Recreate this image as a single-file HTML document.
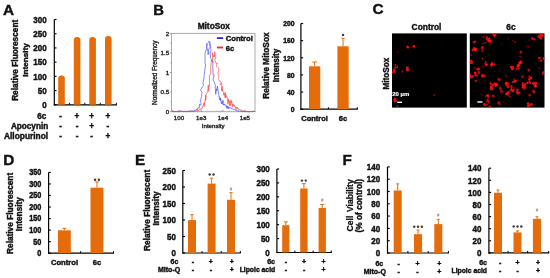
<!DOCTYPE html>
<html><head><meta charset="utf-8"><style>
html,body{margin:0;padding:0;background:#fff;}
svg{display:block;font-family:"Liberation Sans", sans-serif;will-change:transform;filter:blur(0.3px);}
</style></head><body>
<svg width="550" height="278" viewBox="0 0 550 278">
<rect width="550" height="278" fill="#fff"/>
<text x="3.0" y="14.8" font-size="15.3" font-weight="bold" text-anchor="start" fill="#111" stroke="#111" stroke-width="0.4">A</text>
<line x1="54.3" y1="19.5" x2="54.3" y2="105.3" stroke="#000" stroke-width="1.2"/>
<line x1="54.3" y1="19.5" x2="56.5" y2="19.5" stroke="#000" stroke-width="1.15"/>
<text x="0" y="0" font-size="8" font-weight="bold" text-anchor="end" fill="#111" transform="translate(46.6 22.70768) scale(1 1.12)" stroke="#111" stroke-width="0.4">300</text>
<line x1="54.3" y1="33.71666666666667" x2="56.5" y2="33.71666666666667" stroke="#000" stroke-width="1.15"/>
<text x="0" y="0" font-size="8" font-weight="bold" text-anchor="end" fill="#111" transform="translate(46.6 36.92434666666667) scale(1 1.12)" stroke="#111" stroke-width="0.4">250</text>
<line x1="54.3" y1="47.93333333333334" x2="56.5" y2="47.93333333333334" stroke="#000" stroke-width="1.15"/>
<text x="0" y="0" font-size="8" font-weight="bold" text-anchor="end" fill="#111" transform="translate(46.6 51.14101333333334) scale(1 1.12)" stroke="#111" stroke-width="0.4">200</text>
<line x1="54.3" y1="62.15" x2="56.5" y2="62.15" stroke="#000" stroke-width="1.15"/>
<text x="0" y="0" font-size="8" font-weight="bold" text-anchor="end" fill="#111" transform="translate(46.6 65.35768) scale(1 1.12)" stroke="#111" stroke-width="0.4">150</text>
<line x1="54.3" y1="76.36666666666667" x2="56.5" y2="76.36666666666667" stroke="#000" stroke-width="1.15"/>
<text x="0" y="0" font-size="8" font-weight="bold" text-anchor="end" fill="#111" transform="translate(46.6 79.57434666666667) scale(1 1.12)" stroke="#111" stroke-width="0.4">100</text>
<line x1="54.3" y1="90.58333333333333" x2="56.5" y2="90.58333333333333" stroke="#000" stroke-width="1.15"/>
<text x="0" y="0" font-size="8" font-weight="bold" text-anchor="end" fill="#111" transform="translate(46.6 93.79101333333332) scale(1 1.12)" stroke="#111" stroke-width="0.4">50</text>
<line x1="54.3" y1="104.8" x2="56.5" y2="104.8" stroke="#000" stroke-width="1.15"/>
<text x="0" y="0" font-size="8" font-weight="bold" text-anchor="end" fill="#111" transform="translate(46.6 108.00768) scale(1 1.12)" stroke="#111" stroke-width="0.4">0</text>
<line x1="53.8" y1="104.8" x2="116.9" y2="104.8" stroke="#000" stroke-width="1.2"/>
<line x1="69.4" y1="104.8" x2="69.4" y2="102.8" stroke="#000" stroke-width="1"/>
<line x1="84.8" y1="104.8" x2="84.8" y2="102.8" stroke="#000" stroke-width="1"/>
<line x1="100.3" y1="104.8" x2="100.3" y2="102.8" stroke="#000" stroke-width="1"/>
<line x1="116.4" y1="104.8" x2="116.4" y2="102.8" stroke="#000" stroke-width="1"/>
<path d="M58.2 104.8 L58.2 78.19999999999999 Q58.2 75.6 61.5 75.6 Q64.8 75.6 64.8 78.19999999999999 L64.8 104.8 Z" fill="#E46C0A"/>
<path d="M73.8 104.8 L73.8 39.6 Q73.8 37.0 77.1 37.0 Q80.39999999999999 37.0 80.39999999999999 39.6 L80.39999999999999 104.8 Z" fill="#E46C0A"/>
<path d="M89.3 104.8 L89.3 39.6 Q89.3 37.0 92.6 37.0 Q95.89999999999999 37.0 95.89999999999999 39.6 L95.89999999999999 104.8 Z" fill="#E46C0A"/>
<path d="M105.0 104.8 L105.0 38.5 Q105.0 35.9 108.3 35.9 Q111.6 35.9 111.6 38.5 L111.6 104.8 Z" fill="#E46C0A"/>
<text x="46.4" y="118.5" font-size="8.2" font-weight="bold" text-anchor="end" fill="#111" stroke="#111" stroke-width="0.4">6c</text>
<text x="48.2" y="128.7" font-size="8.2" font-weight="bold" text-anchor="end" fill="#111" stroke="#111" stroke-width="0.4">Apocynin</text>
<text x="48.2" y="138.8" font-size="8.4" font-weight="bold" text-anchor="end" fill="#111" stroke="#111" stroke-width="0.4">Allopurinol</text>
<text x="60.6" y="118.5" font-size="8.2" font-weight="bold" text-anchor="middle" fill="#111" stroke="#111" stroke-width="0.4">-</text>
<text x="77" y="118.5" font-size="8.2" font-weight="bold" text-anchor="middle" fill="#111" stroke="#111" stroke-width="0.4">+</text>
<text x="91.6" y="118.5" font-size="8.2" font-weight="bold" text-anchor="middle" fill="#111" stroke="#111" stroke-width="0.4">+</text>
<text x="107.9" y="118.5" font-size="8.2" font-weight="bold" text-anchor="middle" fill="#111" stroke="#111" stroke-width="0.4">+</text>
<text x="60.6" y="128.8" font-size="8.2" font-weight="bold" text-anchor="middle" fill="#111" stroke="#111" stroke-width="0.4">-</text>
<text x="77" y="128.8" font-size="8.2" font-weight="bold" text-anchor="middle" fill="#111" stroke="#111" stroke-width="0.4">-</text>
<text x="91.6" y="128.8" font-size="8.2" font-weight="bold" text-anchor="middle" fill="#111" stroke="#111" stroke-width="0.4">+</text>
<text x="107.9" y="128.8" font-size="8.2" font-weight="bold" text-anchor="middle" fill="#111" stroke="#111" stroke-width="0.4">-</text>
<text x="60.6" y="139.1" font-size="8.2" font-weight="bold" text-anchor="middle" fill="#111" stroke="#111" stroke-width="0.4">-</text>
<text x="77" y="139.1" font-size="8.2" font-weight="bold" text-anchor="middle" fill="#111" stroke="#111" stroke-width="0.4">-</text>
<text x="91.6" y="139.1" font-size="8.2" font-weight="bold" text-anchor="middle" fill="#111" stroke="#111" stroke-width="0.4">-</text>
<text x="107.9" y="139.1" font-size="8.2" font-weight="bold" text-anchor="middle" fill="#111" stroke="#111" stroke-width="0.4">+</text>
<text x="17.6" y="60.3" font-size="8.3" font-weight="bold" text-anchor="middle" fill="#111" transform="rotate(-90 17.6 60.3)" stroke="#111" stroke-width="0.4">Relative Fluorescent</text>
<text x="27.5" y="60.0" font-size="8.1" font-weight="bold" text-anchor="middle" fill="#111" transform="rotate(-90 27.5 60.0)" stroke="#111" stroke-width="0.4">Intensity</text>
<text x="153.2" y="14.9" font-size="14.8" font-weight="bold" text-anchor="start" fill="#111" stroke="#111" stroke-width="0.4">B</text>
<text x="213.8" y="28.6" font-size="8.3" font-weight="bold" text-anchor="middle" fill="#111" stroke="#111" stroke-width="0.4">MitoSox</text>
<rect x="171.5" y="33.4" width="83.5" height="78.3" fill="none" stroke="#aaa" stroke-width="1"/>
<line x1="169.8" y1="33.4" x2="171.5" y2="33.4" stroke="#888" stroke-width="0.8"/>
<text x="169.2" y="35.6" font-size="6.2" font-weight="normal" text-anchor="end" fill="#222" stroke="#222" stroke-width="0.35">2</text>
<line x1="170.5" y1="43.19" x2="171.5" y2="43.19" stroke="#888" stroke-width="0.8"/>
<line x1="169.8" y1="52.974999999999994" x2="171.5" y2="52.974999999999994" stroke="#888" stroke-width="0.8"/>
<text x="169.2" y="55.175" font-size="6.2" font-weight="normal" text-anchor="end" fill="#222" stroke="#222" stroke-width="0.35">1.5</text>
<line x1="170.5" y1="62.76499999999999" x2="171.5" y2="62.76499999999999" stroke="#888" stroke-width="0.8"/>
<line x1="169.8" y1="72.55" x2="171.5" y2="72.55" stroke="#888" stroke-width="0.8"/>
<text x="169.2" y="74.75" font-size="6.2" font-weight="normal" text-anchor="end" fill="#222" stroke="#222" stroke-width="0.35">1</text>
<line x1="170.5" y1="82.34" x2="171.5" y2="82.34" stroke="#888" stroke-width="0.8"/>
<line x1="169.8" y1="92.125" x2="171.5" y2="92.125" stroke="#888" stroke-width="0.8"/>
<text x="169.2" y="94.325" font-size="6.2" font-weight="normal" text-anchor="end" fill="#222" stroke="#222" stroke-width="0.35">0.5</text>
<line x1="170.5" y1="101.91499999999999" x2="171.5" y2="101.91499999999999" stroke="#888" stroke-width="0.8"/>
<line x1="169.8" y1="111.69999999999999" x2="171.5" y2="111.69999999999999" stroke="#888" stroke-width="0.8"/>
<text x="169.2" y="113.89999999999999" font-size="6.2" font-weight="normal" text-anchor="end" fill="#222" stroke="#222" stroke-width="0.35">0</text>
<text x="179" y="119.5" font-size="6.2" font-weight="normal" text-anchor="middle" fill="#222" stroke="#222" stroke-width="0.35">100</text>
<line x1="179" y1="111.7" x2="179" y2="109.8" stroke="#888" stroke-width="0.8"/>
<text x="201.2" y="119.5" font-size="6.2" font-weight="normal" text-anchor="middle" fill="#222" stroke="#222" stroke-width="0.35">1e3</text>
<line x1="201.2" y1="111.7" x2="201.2" y2="109.8" stroke="#888" stroke-width="0.8"/>
<text x="223" y="119.5" font-size="6.2" font-weight="normal" text-anchor="middle" fill="#222" stroke="#222" stroke-width="0.35">1e4</text>
<line x1="223" y1="111.7" x2="223" y2="109.8" stroke="#888" stroke-width="0.8"/>
<text x="244.9" y="119.5" font-size="6.2" font-weight="normal" text-anchor="middle" fill="#222" stroke="#222" stroke-width="0.35">1e5</text>
<line x1="244.9" y1="111.7" x2="244.9" y2="109.8" stroke="#888" stroke-width="0.8"/>
<line x1="185.6226599046076" y1="111.7" x2="185.6226599046076" y2="110.6" stroke="#999" stroke-width="0.6"/>
<line x1="189.49666760383258" y1="111.7" x2="189.49666760383258" y2="110.6" stroke="#999" stroke-width="0.6"/>
<line x1="192.24531980921518" y1="111.7" x2="192.24531980921518" y2="110.6" stroke="#999" stroke-width="0.6"/>
<line x1="194.3773400953924" y1="111.7" x2="194.3773400953924" y2="110.6" stroke="#999" stroke-width="0.6"/>
<line x1="196.11932750844016" y1="111.7" x2="196.11932750844016" y2="110.6" stroke="#999" stroke-width="0.6"/>
<line x1="197.59215688031364" y1="111.7" x2="197.59215688031364" y2="110.6" stroke="#999" stroke-width="0.6"/>
<line x1="198.86797971382276" y1="111.7" x2="198.86797971382276" y2="110.6" stroke="#999" stroke-width="0.6"/>
<line x1="199.99333520766515" y1="111.7" x2="199.99333520766515" y2="110.6" stroke="#999" stroke-width="0.6"/>
<line x1="207.82265990460758" y1="111.7" x2="207.82265990460758" y2="110.6" stroke="#999" stroke-width="0.6"/>
<line x1="211.69666760383257" y1="111.7" x2="211.69666760383257" y2="110.6" stroke="#999" stroke-width="0.6"/>
<line x1="214.44531980921516" y1="111.7" x2="214.44531980921516" y2="110.6" stroke="#999" stroke-width="0.6"/>
<line x1="216.5773400953924" y1="111.7" x2="216.5773400953924" y2="110.6" stroke="#999" stroke-width="0.6"/>
<line x1="218.31932750844015" y1="111.7" x2="218.31932750844015" y2="110.6" stroke="#999" stroke-width="0.6"/>
<line x1="219.79215688031363" y1="111.7" x2="219.79215688031363" y2="110.6" stroke="#999" stroke-width="0.6"/>
<line x1="221.06797971382275" y1="111.7" x2="221.06797971382275" y2="110.6" stroke="#999" stroke-width="0.6"/>
<line x1="222.19333520766514" y1="111.7" x2="222.19333520766514" y2="110.6" stroke="#999" stroke-width="0.6"/>
<line x1="229.6226599046076" y1="111.7" x2="229.6226599046076" y2="110.6" stroke="#999" stroke-width="0.6"/>
<line x1="233.49666760383258" y1="111.7" x2="233.49666760383258" y2="110.6" stroke="#999" stroke-width="0.6"/>
<line x1="236.24531980921518" y1="111.7" x2="236.24531980921518" y2="110.6" stroke="#999" stroke-width="0.6"/>
<line x1="238.3773400953924" y1="111.7" x2="238.3773400953924" y2="110.6" stroke="#999" stroke-width="0.6"/>
<line x1="240.11932750844016" y1="111.7" x2="240.11932750844016" y2="110.6" stroke="#999" stroke-width="0.6"/>
<line x1="241.59215688031364" y1="111.7" x2="241.59215688031364" y2="110.6" stroke="#999" stroke-width="0.6"/>
<line x1="242.86797971382276" y1="111.7" x2="242.86797971382276" y2="110.6" stroke="#999" stroke-width="0.6"/>
<line x1="243.99333520766515" y1="111.7" x2="243.99333520766515" y2="110.6" stroke="#999" stroke-width="0.6"/>
<text x="213.2" y="128.2" font-size="6.1" font-weight="normal" text-anchor="middle" fill="#222" stroke="#222" stroke-width="0.35">Intensity</text>
<text x="157.3" y="72.8" font-size="6.4" font-weight="normal" text-anchor="middle" fill="#222" transform="rotate(-90 157.3 72.8)" stroke="#222" stroke-width="0.35">Normalized Frequency</text>
<polyline points="172.0,111.7 172.45,110.49 172.9,111.66 173.35,111.27 173.8,111.55 174.25,111.4 174.7,111.7 175.15,111.39 175.6,111.59 176.05,111.04 176.5,111.56 176.95,111.33 177.4,111.51 177.85,111.2 178.3,111.6 178.75,111.31 179.2,111.65 179.65,111.36 180.1,111.7 180.55,111.37 181.0,111.46 181.45,111.24 181.9,111.66 182.35,111.24 182.8,111.46 183.25,111.37 183.7,111.7 184.15,111.33 184.6,111.46 185.05,111.3 185.5,111.54 185.95,111.31 186.4,111.7 186.85,111.34 187.3,111.45 187.75,111.32 188.2,111.7 188.65,111.27 189.1,111.53 189.55,110.74 189.99,111.51 190.45,111.29 190.9,111.42 191.34,110.92 191.8,111.34 192.25,111.29 192.69,111.7 193.15,111.18 193.6,111.33 194.05,111.09 194.49,111.25 194.96,110.84 195.42,111.35 195.82,110.95 196.28,110.97 196.75,110.54 197.18,110.85 197.71,109.68 198.11,110.82 198.47,110.24 198.94,110.29 199.45,109.82 200.08,109.76 200.34,109.2 200.82,109.55 201.35,107.91 201.69,108.63 202.66,106.83 202.48,107.55 203.28,105.12 203.56,105.34 204.18,102.34 203.96,106.32 205.65,98.23 205.23,100.74 205.77,95.23 205.61,99.91 206.11,94.14 207.55,92.13 208.34,84.86 208.68,91.44 209.54,82.96 209.54,82.24 209.38,75.8 210.55,74.12 210.78,67.87 210.61,66.33 211.8,59.86 212.76,62.49 212.22,52.57 212.48,55.02 213.19,55.26 213.63,57.09 213.82,54.87 214.28,56.66 214.69,51.84 215.97,58.25 214.6,59.1 216.29,63.67 217.41,63.11 216.27,66.28 218.79,68.44 218.38,71.61 217.88,73.38 218.96,77.2 218.15,78.63 219.34,80.9 221.21,82.12 220.17,84.86 221.79,83.22 221.47,90.62 222.35,86.55 222.42,90.86 221.95,89.37 223.09,92.0 223.81,92.03 223.85,95.41 224.25,93.27 225.2,97.98 225.39,92.48 225.58,97.53 226.31,95.3 227.03,98.01 227.28,97.79 227.95,104.21 228.54,98.81 228.71,101.96 228.93,100.4 229.38,105.75 230.05,100.9 230.63,105.47 230.99,99.85 231.48,103.05 231.78,101.58 232.35,106.9 232.68,103.82 233.15,104.89 233.46,104.38 233.86,106.37 234.48,105.02 234.85,106.92 235.34,106.64 235.98,110.05 236.34,107.25 237.12,108.03 237.34,107.1 237.64,108.82 238.23,108.62 238.63,109.62 238.99,109.32 239.58,109.73 239.89,109.76 240.17,110.06 240.9,109.62 241.27,110.46 241.82,110.53 242.17,110.79 242.59,110.64 243.17,111.08 243.51,110.98 244.0,111.52 244.48,111.09 244.9,111.34 245.35,111.29 245.8,111.7 246.26,111.28 246.7,111.7 247.15,111.4 247.6,111.58 248.05,111.5 248.5,111.7 248.95,111.39 249.4,111.7 249.85,111.52 250.3,111.7 250.75,111.44 251.2,111.58 251.65,111.46 252.1,111.64 252.55,111.29 253.0,111.7 253.45,111.3 253.9,111.59 254.35,111.44 254.8,111.66" fill="none" stroke="#ff4545" stroke-width="0.65" stroke-linejoin="bevel"/>
<polyline points="172.0,111.7 172.45,111.47 172.9,111.65 173.35,111.4 173.8,111.59 174.25,111.38 174.7,111.56 175.15,111.25 175.6,111.63 176.05,111.42 176.5,111.53 176.95,111.36 177.4,111.7 177.85,111.35 178.3,111.7 178.75,111.37 179.2,111.7 179.65,111.33 180.1,111.45 180.55,110.68 181.0,111.55 181.45,111.32 181.9,111.49 182.35,111.35 182.8,111.48 183.25,111.26 183.7,111.53 184.15,111.23 184.6,111.47 185.05,111.2 185.5,111.56 185.95,111.3 186.41,111.7 186.84,111.27 187.31,111.4 187.75,111.1 188.2,111.7 188.65,111.12 189.1,111.55 189.55,111.07 189.99,111.42 190.45,111.05 190.9,111.21 191.35,110.87 191.82,111.11 192.25,110.71 192.69,111.2 193.14,110.79 193.59,111.23 194.08,110.64 194.45,110.76 195.03,110.29 195.42,110.42 195.84,109.77 196.21,109.83 196.77,109.43 197.31,110.04 197.32,108.66 198.32,108.2 198.86,107.49 199.1,108.26 199.65,104.19 200.87,105.42 200.99,103.31 200.18,102.47 201.24,97.7 201.56,96.63 202.01,92.38 200.47,90.14 203.73,84.89 202.93,83.56 204.1,77.02 204.28,74.39 205.63,64.26 205.03,63.7 205.03,53.21 206.68,48.7 207.0,43.08 206.81,47.73 208.78,52.11 208.04,54.69 207.97,50.5 210.27,46.92 208.62,41.3 209.84,41.38 209.8,41.76 211.11,50.42 210.04,53.12 210.85,58.53 213.01,61.96 212.67,68.0 212.98,68.08 213.0,74.69 214.25,74.93 213.04,78.99 213.74,80.97 215.08,84.1 215.17,84.21 215.7,94.29 216.51,88.9 216.93,90.7 217.34,86.14 218.67,94.23 218.77,94.91 219.29,97.08 219.24,96.64 219.53,99.78 219.71,98.73 220.5,100.57 220.55,97.77 221.39,103.88 222.09,101.31 222.7,103.83 223.01,100.23 223.19,104.98 223.81,104.0 224.11,105.17 224.74,104.2 225.09,105.13 225.64,105.13 226.26,106.96 226.54,105.78 227.13,108.76 227.37,105.96 227.77,107.71 228.35,106.68 228.81,108.8 229.11,107.24 229.6,108.11 229.96,107.61 230.49,108.15 231.01,107.81 231.39,108.55 231.81,108.53 232.21,109.1 232.77,108.68 233.25,109.36 233.69,109.3 234.11,109.79 234.49,109.57 235.09,110.0 235.45,110.08 235.89,110.34 236.39,110.13 236.7,110.59 237.25,110.65 237.7,110.79 238.16,110.78 238.65,111.13 239.07,110.8 239.44,111.19 239.94,111.22 240.4,111.35 240.85,111.19 241.28,111.54 241.73,111.41 242.21,111.7 242.65,111.52 243.1,111.67 243.55,111.54 244.0,111.7 244.45,111.48 244.9,111.64 245.35,111.56 245.8,111.6 246.25,111.12 246.7,111.7 247.15,111.38 247.6,111.63 248.05,111.55 248.5,111.7 248.95,111.5 249.4,111.7 249.85,111.39 250.3,111.66 250.75,111.43 251.2,111.63 251.65,111.45 252.1,111.62 252.55,111.48 253.0,111.7 253.45,111.45 253.9,111.66 254.35,110.92 254.8,111.7" fill="none" stroke="#4545ff" stroke-width="0.65" stroke-linejoin="bevel"/>
<line x1="216.9" y1="38.1" x2="223.1" y2="38.1" stroke="#2020ff" stroke-width="1.8"/>
<line x1="216.9" y1="47.5" x2="223.1" y2="47.5" stroke="#ff2020" stroke-width="1.8"/>
<text x="225.8" y="41.2" font-size="7.6" font-weight="bold" text-anchor="start" fill="#111" stroke="#111" stroke-width="0.4">Control</text>
<text x="225.8" y="50.6" font-size="7.6" font-weight="bold" text-anchor="start" fill="#111" stroke="#111" stroke-width="0.4">6c</text>
<line x1="300.9" y1="23.5" x2="300.9" y2="109.7" stroke="#000" stroke-width="1.2"/>
<line x1="300.9" y1="23.5" x2="303.09999999999997" y2="23.5" stroke="#000" stroke-width="1.15"/>
<text x="0" y="0" font-size="6.8" font-weight="bold" text-anchor="end" fill="#111" transform="translate(294.6 26.226528000000002) scale(1 1.12)" stroke="#111" stroke-width="0.4">200</text>
<line x1="300.9" y1="40.64" x2="303.09999999999997" y2="40.64" stroke="#000" stroke-width="1.15"/>
<text x="0" y="0" font-size="6.8" font-weight="bold" text-anchor="end" fill="#111" transform="translate(294.6 43.366528) scale(1 1.12)" stroke="#111" stroke-width="0.4">160</text>
<line x1="300.9" y1="57.78" x2="303.09999999999997" y2="57.78" stroke="#000" stroke-width="1.15"/>
<text x="0" y="0" font-size="6.8" font-weight="bold" text-anchor="end" fill="#111" transform="translate(294.6 60.506528) scale(1 1.12)" stroke="#111" stroke-width="0.4">120</text>
<line x1="300.9" y1="74.92" x2="303.09999999999997" y2="74.92" stroke="#000" stroke-width="1.15"/>
<text x="0" y="0" font-size="6.8" font-weight="bold" text-anchor="end" fill="#111" transform="translate(294.6 77.646528) scale(1 1.12)" stroke="#111" stroke-width="0.4">80</text>
<line x1="300.9" y1="92.06" x2="303.09999999999997" y2="92.06" stroke="#000" stroke-width="1.15"/>
<text x="0" y="0" font-size="6.8" font-weight="bold" text-anchor="end" fill="#111" transform="translate(294.6 94.786528) scale(1 1.12)" stroke="#111" stroke-width="0.4">40</text>
<line x1="300.9" y1="109.2" x2="303.09999999999997" y2="109.2" stroke="#000" stroke-width="1.15"/>
<text x="0" y="0" font-size="6.8" font-weight="bold" text-anchor="end" fill="#111" transform="translate(294.6 111.926528) scale(1 1.12)" stroke="#111" stroke-width="0.4">0</text>
<line x1="300.4" y1="109.2" x2="357.8" y2="109.2" stroke="#000" stroke-width="1.2"/>
<line x1="328.4" y1="109.2" x2="328.4" y2="107.2" stroke="#000" stroke-width="1"/>
<line x1="357.3" y1="109.2" x2="357.3" y2="107.2" stroke="#000" stroke-width="1"/>
<rect x="309" y="66.3" width="11.300000000000011" height="42.900000000000006" fill="#E46C0A"/>
<line x1="314.65" y1="62" x2="314.65" y2="66.3" stroke="#E46C0A" stroke-width="1"/>
<line x1="312.34999999999997" y1="62" x2="316.95" y2="62" stroke="#E46C0A" stroke-width="1"/>
<rect x="337.4" y="46.3" width="11.300000000000011" height="62.900000000000006" fill="#E46C0A"/>
<line x1="343.04999999999995" y1="38.3" x2="343.04999999999995" y2="46.3" stroke="#E46C0A" stroke-width="1"/>
<line x1="341.34999999999997" y1="38.3" x2="344.74999999999994" y2="38.3" stroke="#E46C0A" stroke-width="1"/>
<circle cx="343.05" cy="34.90" r="1.2" fill="#3a3a3a"/>
<text x="314.6" y="121.2" font-size="7.5" font-weight="bold" text-anchor="middle" fill="#111" stroke="#111" stroke-width="0.4">Control</text>
<text x="343.0" y="121.0" font-size="7.5" font-weight="bold" text-anchor="middle" fill="#111" stroke="#111" stroke-width="0.4">6c</text>
<text x="269.5" y="65.6" font-size="8.3" font-weight="bold" text-anchor="middle" fill="#111" transform="rotate(-90 269.5 65.6)" stroke="#111" stroke-width="0.4">Relative MitoSox</text>
<text x="278.6" y="65.5" font-size="8.2" font-weight="bold" text-anchor="middle" fill="#111" transform="rotate(-90 278.6 65.5)" stroke="#111" stroke-width="0.4">Intensity</text>
<text x="372.6" y="14.3" font-size="15.3" font-weight="bold" text-anchor="start" fill="#111" stroke="#111" stroke-width="0.4">C</text>
<text x="426.5" y="29.5" font-size="8.4" font-weight="bold" text-anchor="middle" fill="#111" stroke="#111" stroke-width="0.4">Control</text>
<text x="511" y="29.8" font-size="8.4" font-weight="bold" text-anchor="middle" fill="#111" stroke="#111" stroke-width="0.4">6c</text>
<text x="388.9" y="73.6" font-size="8.2" font-weight="bold" text-anchor="middle" fill="#111" transform="rotate(-90 388.9 73.6)" stroke="#111" stroke-width="0.4">MitoSox</text>
<rect x="392" y="33.4" width="74.8" height="74.2" fill="#000"/>
<rect x="469.8" y="33.4" width="74.7" height="74.2" fill="#000"/>
<defs><filter id="bl" x="-5%" y="-5%" width="110%" height="110%"><feGaussianBlur stdDeviation="0.65"/></filter><clipPath id="c1"><rect x="392" y="33.4" width="74.8" height="74.2"/></clipPath><clipPath id="c2"><rect x="469.8" y="33.4" width="74.7" height="74.2"/></clipPath></defs>
<g clip-path="url(#c1)"><g filter="url(#bl)">
<ellipse cx="416.63979183282083" cy="45.01198969648864" rx="0.81" ry="0.59" transform="rotate(10 416.63979183282083 45.01198969648864)" fill="#ff0d0d" opacity="0.11086544300013142"/>
<ellipse cx="430.04280852282767" cy="36.7371830662649" rx="0.60" ry="0.55" transform="rotate(149 430.04280852282767 36.7371830662649)" fill="#ff0d0d" opacity="0.11047831353619285"/>
<ellipse cx="402.0375431639241" cy="50.296444416312056" rx="0.82" ry="0.59" transform="rotate(176 402.0375431639241 50.296444416312056)" fill="#ff0d0d" opacity="0.24215634136855085"/>
<ellipse cx="396.4005356850962" cy="96.6681975105536" rx="0.56" ry="0.48" transform="rotate(147 396.4005356850962 96.6681975105536)" fill="#ff0d0d" opacity="0.12163826250361563"/>
<ellipse cx="406.1930257344474" cy="76.45681194736004" rx="0.81" ry="0.50" transform="rotate(11 406.1930257344474 76.45681194736004)" fill="#ff0d0d" opacity="0.1558596314088597"/>
<ellipse cx="408.03498603581085" cy="83.66919804227038" rx="0.75" ry="0.55" transform="rotate(54 408.03498603581085 83.66919804227038)" fill="#ff0d0d" opacity="0.14712207555651874"/>
<ellipse cx="407.7" cy="47.1" rx="1.69" ry="1.27" transform="rotate(44 407.7 47.1)" fill="#ff0d0d" opacity="0.95"/>
<ellipse cx="413.7" cy="46.4" rx="1.54" ry="1.18" transform="rotate(158 413.7 46.4)" fill="#ff0d0d" opacity="0.95"/>
<ellipse cx="397.9" cy="52.4" rx="1.26" ry="0.82" transform="rotate(176 397.9 52.4)" fill="#ff0d0d" opacity="0.3"/>
<ellipse cx="397.0062180445139" cy="67.42214786738566" rx="0.83" ry="0.88" transform="rotate(138 397.0062180445139 67.42214786738566)" fill="#ff0d0d" opacity="0.8466889301427416"/>
<ellipse cx="395.083617673724" cy="67.6176795307542" rx="1.16" ry="0.90" transform="rotate(82 395.083617673724 67.6176795307542)" fill="#ff0d0d" opacity="0.9085886098820978"/>
<ellipse cx="395.33930829594516" cy="65.16183187801444" rx="0.96" ry="1.01" transform="rotate(116 395.33930829594516 65.16183187801444)" fill="#ff0d0d" opacity="0.8992456616424023"/>
<ellipse cx="397.3951235166225" cy="66.69660756538666" rx="1.18" ry="0.68" transform="rotate(83 397.3951235166225 66.69660756538666)" fill="#ff0d0d" opacity="0.8157374327340132"/>
<ellipse cx="408.51568909287937" cy="69.71138149503537" rx="1.37" ry="1.15" transform="rotate(157 408.51568909287937 69.71138149503537)" fill="#ff0d0d" opacity="0.6649218599450447"/>
<ellipse cx="407.2806914172087" cy="69.95344153288822" rx="1.63" ry="1.30" transform="rotate(50 407.2806914172087 69.95344153288822)" fill="#ff0d0d" opacity="0.8685136331392085"/>
<ellipse cx="406.98470459629795" cy="68.00905889779384" rx="1.35" ry="1.07" transform="rotate(42 406.98470459629795 68.00905889779384)" fill="#ff0d0d" opacity="0.8885874250702777"/>
<ellipse cx="407.9632196966693" cy="67.4125172283167" rx="1.14" ry="1.09" transform="rotate(66 407.9632196966693 67.4125172283167)" fill="#ff0d0d" opacity="0.7009415872106053"/>
<ellipse cx="402.2" cy="71.5" rx="1.18" ry="1.08" transform="rotate(124 402.2 71.5)" fill="#ff0d0d" opacity="0.6"/>
<ellipse cx="392.37306708873393" cy="72.38019723218244" rx="1.06" ry="0.86" transform="rotate(144 392.37306708873393 72.38019723218244)" fill="#ff0d0d" opacity="0.9698599030173857"/>
<ellipse cx="393.4733271161392" cy="71.45228338006446" rx="0.78" ry="0.61" transform="rotate(38 393.4733271161392 71.45228338006446)" fill="#ff0d0d" opacity="0.8902868697057127"/>
<ellipse cx="394.34312548724284" cy="71.80477043005631" rx="0.80" ry="0.61" transform="rotate(65 394.34312548724284 71.80477043005631)" fill="#ff0d0d" opacity="0.7000699845704069"/>
<ellipse cx="394.9591615204129" cy="72.5334357073833" rx="1.04" ry="0.85" transform="rotate(66 394.9591615204129 72.5334357073833)" fill="#ff0d0d" opacity="0.7445651455992673"/>
<ellipse cx="394" cy="69.8" rx="1.25" ry="1.35" transform="rotate(179 394 69.8)" fill="#ff0d0d" opacity="0.9"/>
<ellipse cx="434" cy="95.1" rx="1.13" ry="0.89" transform="rotate(15 434 95.1)" fill="#ff0d0d" opacity="0.55"/>
<ellipse cx="396.07639080116724" cy="101.08055128050714" rx="1.00" ry="1.18" transform="rotate(95 396.07639080116724 101.08055128050714)" fill="#ff0d0d" opacity="0.7484315831579295"/>
<ellipse cx="395.0683921139492" cy="101.62401655381338" rx="1.12" ry="0.85" transform="rotate(125 395.0683921139492 101.62401655381338)" fill="#ff0d0d" opacity="0.8584328322814919"/>
<ellipse cx="394.2657629776057" cy="100.53054116993918" rx="1.00" ry="0.87" transform="rotate(59 394.2657629776057 100.53054116993918)" fill="#ff0d0d" opacity="0.9315813725206094"/>
<ellipse cx="394.70469775938767" cy="99.32256845408786" rx="1.49" ry="1.18" transform="rotate(133 394.70469775938767 99.32256845408786)" fill="#ff0d0d" opacity="0.9557886396239981"/>
<ellipse cx="397.5" cy="105.9" rx="1.01" ry="0.91" transform="rotate(64 397.5 105.9)" fill="#ff0d0d" opacity="0.7"/>
<ellipse cx="441.2" cy="42" rx="0.73" ry="0.57" transform="rotate(50 441.2 42)" fill="#ff0d0d" opacity="0.25"/>
<ellipse cx="413.7" cy="89.5" rx="0.82" ry="0.78" transform="rotate(172 413.7 89.5)" fill="#ff0d0d" opacity="0.25"/>
</g></g>
<g clip-path="url(#c2)"><g filter="url(#bl)">
<ellipse cx="503.6476204769708" cy="102.40254769316569" rx="1.08" ry="0.78" transform="rotate(41 503.6476204769708 102.40254769316569)" fill="#ff0d0d" opacity="0.3396501452039066"/>
<ellipse cx="485.3595499296102" cy="48.91925551916428" rx="1.07" ry="0.72" transform="rotate(118 485.3595499296102 48.91925551916428)" fill="#ff0d0d" opacity="0.3270709177133463"/>
<ellipse cx="529.3739933740252" cy="40.188829510877746" rx="1.07" ry="0.83" transform="rotate(86 529.3739933740252 40.188829510877746)" fill="#ff0d0d" opacity="0.32924874163689627"/>
<ellipse cx="484.03208543864287" cy="91.60688646448017" rx="0.92" ry="0.57" transform="rotate(72 484.03208543864287 91.60688646448017)" fill="#ff0d0d" opacity="0.3041894208462389"/>
<ellipse cx="540.1161814719371" cy="86.91030259129772" rx="0.57" ry="0.62" transform="rotate(145 540.1161814719371 86.91030259129772)" fill="#ff0d0d" opacity="0.1492188244785088"/>
<ellipse cx="481.6707245383028" cy="94.33526493235325" rx="1.06" ry="0.91" transform="rotate(24 481.6707245383028 94.33526493235325)" fill="#ff0d0d" opacity="0.2711717073292846"/>
<ellipse cx="472.0397344853957" cy="104.8749829383568" rx="1.13" ry="0.72" transform="rotate(157 472.0397344853957 104.8749829383568)" fill="#ff0d0d" opacity="0.24111364083278275"/>
<ellipse cx="531.3093333825111" cy="49.406090624954864" rx="0.64" ry="0.58" transform="rotate(47 531.3093333825111 49.406090624954864)" fill="#ff0d0d" opacity="0.18738233011415034"/>
<ellipse cx="501.5879163510817" cy="43.56837838475428" rx="1.08" ry="0.89" transform="rotate(163 501.5879163510817 43.56837838475428)" fill="#ff0d0d" opacity="0.20137032550924955"/>
<ellipse cx="501.70586376176175" cy="100.9936391570145" rx="0.87" ry="0.53" transform="rotate(79 501.70586376176175 100.9936391570145)" fill="#ff0d0d" opacity="0.24231974136026474"/>
<ellipse cx="484.3668757708705" cy="34.28707117327186" rx="1.02" ry="0.89" transform="rotate(100 484.3668757708705 34.28707117327186)" fill="#ff0d0d" opacity="0.15963974380909324"/>
<ellipse cx="494.7966970265671" cy="71.83945602732169" rx="0.74" ry="0.72" transform="rotate(45 494.7966970265671 71.83945602732169)" fill="#ff0d0d" opacity="0.3003826693340593"/>
<ellipse cx="491.21494614392907" cy="90.37506020915065" rx="0.96" ry="0.80" transform="rotate(80 491.21494614392907 90.37506020915065)" fill="#ff0d0d" opacity="0.2491977589309895"/>
<ellipse cx="515.7145355571456" cy="70.90537855213918" rx="0.85" ry="0.69" transform="rotate(86 515.7145355571456 70.90537855213918)" fill="#ff0d0d" opacity="0.2793281305860927"/>
<ellipse cx="539.7295823103105" cy="85.04290539916087" rx="0.97" ry="0.87" transform="rotate(170 539.7295823103105 85.04290539916087)" fill="#ff0d0d" opacity="0.3367015353098224"/>
<ellipse cx="532.319984187704" cy="44.01081382047016" rx="0.53" ry="0.45" transform="rotate(13 532.319984187704 44.01081382047016)" fill="#ff0d0d" opacity="0.22168716030326002"/>
<ellipse cx="519.8714666076224" cy="91.22732925364033" rx="1.19" ry="0.91" transform="rotate(26 519.8714666076224 91.22732925364033)" fill="#ff0d0d" opacity="0.15552272346679918"/>
<ellipse cx="535.4467968569666" cy="104.63076913464603" rx="0.67" ry="0.55" transform="rotate(178 535.4467968569666 104.63076913464603)" fill="#ff0d0d" opacity="0.33907594965136684"/>
<ellipse cx="531.7684608722552" cy="45.787022371304175" rx="0.77" ry="0.56" transform="rotate(57 531.7684608722552 45.787022371304175)" fill="#ff0d0d" opacity="0.23858916329500257"/>
<ellipse cx="523.7170109653066" cy="35.4222537478247" rx="0.71" ry="0.65" transform="rotate(112 523.7170109653066 35.4222537478247)" fill="#ff0d0d" opacity="0.22130536341462148"/>
<ellipse cx="508.39514676583224" cy="38.69322785912489" rx="1.38" ry="0.74" transform="rotate(48 508.39514676583224 38.69322785912489)" fill="#ff0d0d" opacity="0.3013235029024436"/>
<ellipse cx="473.8899378637269" cy="90.86681239495613" rx="0.71" ry="0.68" transform="rotate(147 473.8899378637269 90.86681239495613)" fill="#ff0d0d" opacity="0.14979777864030577"/>
<ellipse cx="489.87845807995046" cy="44.90386016049771" rx="1.20" ry="0.71" transform="rotate(10 489.87845807995046 44.90386016049771)" fill="#ff0d0d" opacity="0.2512368328404484"/>
<ellipse cx="521.239006708444" cy="65.04814397808775" rx="0.65" ry="0.55" transform="rotate(15 521.239006708444 65.04814397808775)" fill="#ff0d0d" opacity="0.3358204330792374"/>
<ellipse cx="533.5046904551668" cy="38.86344504583569" rx="1.00" ry="0.86" transform="rotate(167 533.5046904551668 38.86344504583569)" fill="#ff0d0d" opacity="0.2243679098237727"/>
<ellipse cx="490.55376150745417" cy="43.43341039235901" rx="0.73" ry="0.58" transform="rotate(9 490.55376150745417 43.43341039235901)" fill="#ff0d0d" opacity="0.1748403189761114"/>
<ellipse cx="485.7290821601005" cy="56.77544549772881" rx="0.68" ry="0.59" transform="rotate(32 485.7290821601005 56.77544549772881)" fill="#ff0d0d" opacity="0.2946845986496691"/>
<ellipse cx="496.3310746153337" cy="35.325906832504465" rx="0.79" ry="0.58" transform="rotate(34 496.3310746153337 35.325906832504465)" fill="#ff0d0d" opacity="0.12352960701465453"/>
<ellipse cx="505.65752661179454" cy="102.22892730411183" rx="0.62" ry="0.50" transform="rotate(150 505.65752661179454 102.22892730411183)" fill="#ff0d0d" opacity="0.3083516322785942"/>
<ellipse cx="499.69528351599575" cy="70.9880745073271" rx="0.90" ry="0.87" transform="rotate(127 499.69528351599575 70.9880745073271)" fill="#ff0d0d" opacity="0.3459613242954033"/>
<ellipse cx="517.4263172686061" cy="63.542932735599415" rx="0.65" ry="0.49" transform="rotate(133 517.4263172686061 63.542932735599415)" fill="#ff0d0d" opacity="0.13250936346134035"/>
<ellipse cx="489.65835300418786" cy="45.91699598017543" rx="0.72" ry="0.53" transform="rotate(51 489.65835300418786 45.91699598017543)" fill="#ff0d0d" opacity="0.313491865825674"/>
<ellipse cx="488.6815441814515" cy="55.393269958364485" rx="0.82" ry="0.59" transform="rotate(173 488.6815441814515 55.393269958364485)" fill="#ff0d0d" opacity="0.15623257616071728"/>
<ellipse cx="542.0014788500855" cy="73.93635631068031" rx="0.66" ry="0.52" transform="rotate(0 542.0014788500855 73.93635631068031)" fill="#ff0d0d" opacity="0.3421033571135206"/>
<ellipse cx="498.8587422827185" cy="68.64898479999458" rx="0.87" ry="0.53" transform="rotate(48 498.8587422827185 68.64898479999458)" fill="#ff0d0d" opacity="0.1662254124662374"/>
<ellipse cx="477.5519980453115" cy="63.16431543109158" rx="0.55" ry="0.41" transform="rotate(105 477.5519980453115 63.16431543109158)" fill="#ff0d0d" opacity="0.12517365380315923"/>
<ellipse cx="509.630837025397" cy="88.78946600357745" rx="1.11" ry="0.71" transform="rotate(59 509.630837025397 88.78946600357745)" fill="#ff0d0d" opacity="0.2846784912074316"/>
<ellipse cx="542.8852232104236" cy="44.91080988008447" rx="0.79" ry="0.89" transform="rotate(161 542.8852232104236 44.91080988008447)" fill="#ff0d0d" opacity="0.26794047343204175"/>
<ellipse cx="516.7952450762307" cy="87.57120501381821" rx="1.05" ry="0.82" transform="rotate(150 516.7952450762307 87.57120501381821)" fill="#ff0d0d" opacity="0.152040750304417"/>
<ellipse cx="529.7414652196603" cy="94.32786586964455" rx="0.98" ry="0.77" transform="rotate(41 529.7414652196603 94.32786586964455)" fill="#ff0d0d" opacity="0.3253508393732668"/>
<ellipse cx="495.73755290479914" cy="35.025608603284084" rx="1.11" ry="0.90" transform="rotate(113 495.73755290479914 35.025608603284084)" fill="#ff0d0d" opacity="0.9671642399599942"/>
<ellipse cx="494.305260776686" cy="36.017112899374624" rx="1.15" ry="0.81" transform="rotate(96 494.305260776686 36.017112899374624)" fill="#ff0d0d" opacity="0.9595395104141705"/>
<ellipse cx="493.67981334928464" cy="34.57390403135065" rx="1.12" ry="0.96" transform="rotate(131 493.67981334928464 34.57390403135065)" fill="#ff0d0d" opacity="0.850438706292538"/>
<ellipse cx="493.424301214173" cy="33.981284808636055" rx="1.40" ry="1.15" transform="rotate(123 493.424301214173 33.981284808636055)" fill="#ff0d0d" opacity="0.8987897557698656"/>
<ellipse cx="486.7" cy="37.8" rx="1.75" ry="1.29" transform="rotate(116 486.7 37.8)" fill="#ff0d0d" opacity="0.76"/>
<ellipse cx="489.85706382750703" cy="40.406522264756056" rx="1.41" ry="0.84" transform="rotate(11 489.85706382750703 40.406522264756056)" fill="#ff0d0d" opacity="0.8608834275918466"/>
<ellipse cx="488.6824407633693" cy="41.26663245607258" rx="1.23" ry="1.06" transform="rotate(84 488.6824407633693 41.26663245607258)" fill="#ff0d0d" opacity="0.9351415313625548"/>
<ellipse cx="487.93141656785275" cy="39.719152829302715" rx="1.74" ry="1.35" transform="rotate(3 487.93141656785275 39.719152829302715)" fill="#ff0d0d" opacity="0.8398500059719006"/>
<ellipse cx="488.92027085298906" cy="38.40981152585557" rx="1.33" ry="1.01" transform="rotate(170 488.92027085298906 38.40981152585557)" fill="#ff0d0d" opacity="0.8898901939302191"/>
<ellipse cx="490.5" cy="41.2" rx="1.48" ry="1.37" transform="rotate(26 490.5 41.2)" fill="#ff0d0d" opacity="0.95"/>
<ellipse cx="483.5" cy="37" rx="1.22" ry="1.14" transform="rotate(24 483.5 37)" fill="#ff0d0d" opacity="0.57"/>
<ellipse cx="474.5" cy="42" rx="1.93" ry="1.33" transform="rotate(160 474.5 42)" fill="#ff0d0d" opacity="0.76"/>
<ellipse cx="485.3" cy="42.8" rx="1.31" ry="0.83" transform="rotate(162 485.3 42.8)" fill="#ff0d0d" opacity="0.57"/>
<ellipse cx="483.1" cy="43.5" rx="1.20" ry="0.75" transform="rotate(1 483.1 43.5)" fill="#ff0d0d" opacity="0.57"/>
<ellipse cx="472.56012868353224" cy="50.064748904933126" rx="1.12" ry="1.10" transform="rotate(0 472.56012868353224 50.064748904933126)" fill="#ff0d0d" opacity="0.8687920292855891"/>
<ellipse cx="473.8880185022137" cy="48.331030723123966" rx="1.32" ry="1.12" transform="rotate(52 473.8880185022137 48.331030723123966)" fill="#ff0d0d" opacity="0.9852797719772773"/>
<ellipse cx="474.9381228978069" cy="49.34264771060357" rx="1.56" ry="1.25" transform="rotate(50 474.9381228978069 49.34264771060357)" fill="#ff0d0d" opacity="0.9178353310769807"/>
<ellipse cx="474.87919230936325" cy="49.931440062044736" rx="1.87" ry="1.09" transform="rotate(48 474.87919230936325 49.931440062044736)" fill="#ff0d0d" opacity="0.8571246380134874"/>
<ellipse cx="476" cy="49" rx="1.70" ry="1.14" transform="rotate(67 476 49)" fill="#ff0d0d" opacity="0.95"/>
<ellipse cx="482.4" cy="47.8" rx="1.88" ry="1.44" transform="rotate(146 482.4 47.8)" fill="#ff0d0d" opacity="0.76"/>
<ellipse cx="482.4" cy="50.7" rx="1.40" ry="1.23" transform="rotate(169 482.4 50.7)" fill="#ff0d0d" opacity="0.57"/>
<ellipse cx="470.9" cy="55" rx="1.23" ry="1.04" transform="rotate(9 470.9 55)" fill="#ff0d0d" opacity="0.475"/>
<ellipse cx="470.8404433214537" cy="60.76693414652163" rx="1.07" ry="1.24" transform="rotate(23 470.8404433214537 60.76693414652163)" fill="#ff0d0d" opacity="0.8572416640603171"/>
<ellipse cx="472.1098353778122" cy="61.90866224785398" rx="1.41" ry="0.82" transform="rotate(118 472.1098353778122 61.90866224785398)" fill="#ff0d0d" opacity="0.9478065009992499"/>
<ellipse cx="471.84916966158266" cy="63.18601152624058" rx="1.04" ry="0.83" transform="rotate(163 471.84916966158266 63.18601152624058)" fill="#ff0d0d" opacity="0.8334664935517386"/>
<ellipse cx="470.0617594982908" cy="62.689850801837665" rx="1.42" ry="0.95" transform="rotate(35 470.0617594982908 62.689850801837665)" fill="#ff0d0d" opacity="0.9992950227249382"/>
<ellipse cx="482.4" cy="58.6" rx="1.19" ry="1.05" transform="rotate(16 482.4 58.6)" fill="#ff0d0d" opacity="0.6649999999999999"/>
<ellipse cx="486.0894377281591" cy="64.70706840580564" rx="1.38" ry="1.08" transform="rotate(94 486.0894377281591 64.70706840580564)" fill="#ff0d0d" opacity="0.9499315215209357"/>
<ellipse cx="484.9075454166761" cy="63.73786015868432" rx="1.28" ry="0.69" transform="rotate(91 484.9075454166761 63.73786015868432)" fill="#ff0d0d" opacity="0.8555032693956506"/>
<ellipse cx="485.88360976675" cy="61.88319881908061" rx="1.01" ry="0.85" transform="rotate(80 485.88360976675 61.88319881908061)" fill="#ff0d0d" opacity="0.8542041762125345"/>
<ellipse cx="487.0582327052511" cy="64.4786206165079" rx="1.14" ry="1.23" transform="rotate(161 487.0582327052511 64.4786206165079)" fill="#ff0d0d" opacity="0.8043621020425067"/>
<ellipse cx="491.5139312744883" cy="64.56719566236444" rx="1.54" ry="1.22" transform="rotate(175 491.5139312744883 64.56719566236444)" fill="#ff0d0d" opacity="0.9853654547455322"/>
<ellipse cx="491.96436747462826" cy="63.453859600706195" rx="1.33" ry="1.15" transform="rotate(130 491.96436747462826 63.453859600706195)" fill="#ff0d0d" opacity="0.9044731214223616"/>
<ellipse cx="494.095082150999" cy="64.16817564874788" rx="1.10" ry="1.22" transform="rotate(42 494.095082150999 64.16817564874788)" fill="#ff0d0d" opacity="0.9103001829637015"/>
<ellipse cx="491.63947961642714" cy="65.6485942672993" rx="1.16" ry="1.08" transform="rotate(126 491.63947961642714 65.6485942672993)" fill="#ff0d0d" opacity="0.8255933696426045"/>
<ellipse cx="483.1" cy="66.5" rx="1.00" ry="0.76" transform="rotate(94 483.1 66.5)" fill="#ff0d0d" opacity="0.6649999999999999"/>
<ellipse cx="477.28194990888915" cy="68.93072532350715" rx="1.06" ry="0.89" transform="rotate(173 477.28194990888915 68.93072532350715)" fill="#ff0d0d" opacity="0.8020923279784268"/>
<ellipse cx="478.79053034885925" cy="68.2218348165374" rx="0.99" ry="1.05" transform="rotate(127 478.79053034885925 68.2218348165374)" fill="#ff0d0d" opacity="0.8469536193415557"/>
<ellipse cx="478.9120927119514" cy="69.34513524273086" rx="1.08" ry="0.78" transform="rotate(120 478.9120927119514 69.34513524273086)" fill="#ff0d0d" opacity="0.9348926524030691"/>
<ellipse cx="477.1877089693904" cy="69.64702333926148" rx="0.90" ry="0.79" transform="rotate(36 477.1877089693904 69.64702333926148)" fill="#ff0d0d" opacity="0.8676103140686933"/>
<ellipse cx="474.5" cy="68" rx="1.36" ry="1.05" transform="rotate(91 474.5 68)" fill="#ff0d0d" opacity="0.475"/>
<ellipse cx="540.681607302463" cy="37.9202664277796" rx="1.51" ry="1.50" transform="rotate(53 540.681607302463 37.9202664277796)" fill="#ff0d0d" opacity="0.8461617625729949"/>
<ellipse cx="538.7637430661366" cy="36.592982401628745" rx="1.32" ry="1.15" transform="rotate(171 538.7637430661366 36.592982401628745)" fill="#ff0d0d" opacity="0.8446648277119588"/>
<ellipse cx="538.9743827978343" cy="36.02175870600838" rx="1.17" ry="0.87" transform="rotate(11 538.9743827978343 36.02175870600838)" fill="#ff0d0d" opacity="0.9948239409865843"/>
<ellipse cx="541.4274229731129" cy="35.08260695537297" rx="2.14" ry="1.64" transform="rotate(59 541.4274229731129 35.08260695537297)" fill="#ff0d0d" opacity="0.9465447531837308"/>
<ellipse cx="532.3" cy="38.5" rx="1.36" ry="1.47" transform="rotate(134 532.3 38.5)" fill="#ff0d0d" opacity="0.76"/>
<ellipse cx="534.5" cy="39.2" rx="1.25" ry="1.32" transform="rotate(68 534.5 39.2)" fill="#ff0d0d" opacity="0.76"/>
<ellipse cx="515.1" cy="42.1" rx="1.14" ry="0.87" transform="rotate(30 515.1 42.1)" fill="#ff0d0d" opacity="0.57"/>
<ellipse cx="512.9" cy="40.6" rx="0.95" ry="0.85" transform="rotate(63 512.9 40.6)" fill="#ff0d0d" opacity="0.475"/>
<ellipse cx="528" cy="46.4" rx="1.45" ry="0.79" transform="rotate(174 528 46.4)" fill="#ff0d0d" opacity="0.475"/>
<ellipse cx="520.8" cy="52.1" rx="1.48" ry="1.24" transform="rotate(148 520.8 52.1)" fill="#ff0d0d" opacity="0.76"/>
<ellipse cx="520.1" cy="56.5" rx="1.38" ry="0.92" transform="rotate(9 520.1 56.5)" fill="#ff0d0d" opacity="0.475"/>
<ellipse cx="539.5" cy="57.9" rx="1.67" ry="1.25" transform="rotate(166 539.5 57.9)" fill="#ff0d0d" opacity="0.76"/>
<ellipse cx="544" cy="58.3" rx="1.46" ry="1.24" transform="rotate(161 544 58.3)" fill="#ff0d0d" opacity="0.95"/>
<ellipse cx="541" cy="60.8" rx="1.25" ry="1.18" transform="rotate(146 541 60.8)" fill="#ff0d0d" opacity="0.76"/>
<ellipse cx="520.1967064963578" cy="61.27997342189757" rx="0.95" ry="0.92" transform="rotate(162 520.1967064963578 61.27997342189757)" fill="#ff0d0d" opacity="0.9840153441757022"/>
<ellipse cx="521.1819082271111" cy="62.024396794240594" rx="1.32" ry="1.26" transform="rotate(57 521.1819082271111 62.024396794240594)" fill="#ff0d0d" opacity="0.9233956963473343"/>
<ellipse cx="520.5646835883775" cy="62.973928001320736" rx="1.46" ry="1.29" transform="rotate(4 520.5646835883775 62.973928001320736)" fill="#ff0d0d" opacity="0.9832919207299625"/>
<ellipse cx="519.404209699456" cy="63.22896938846012" rx="1.40" ry="1.02" transform="rotate(77 519.404209699456 63.22896938846012)" fill="#ff0d0d" opacity="0.9907821160202572"/>
<ellipse cx="517.6691510029224" cy="65.84229372091488" rx="1.60" ry="1.23" transform="rotate(109 517.6691510029224 65.84229372091488)" fill="#ff0d0d" opacity="0.9476976026644033"/>
<ellipse cx="518.347970449584" cy="64.72615411775756" rx="0.98" ry="0.81" transform="rotate(136 518.347970449584 64.72615411775756)" fill="#ff0d0d" opacity="0.9564497241314008"/>
<ellipse cx="519.4006691411024" cy="65.16350252068953" rx="0.97" ry="1.00" transform="rotate(159 519.4006691411024 65.16350252068953)" fill="#ff0d0d" opacity="0.910518928683723"/>
<ellipse cx="517.8363799323449" cy="66.4662089083306" rx="1.07" ry="0.92" transform="rotate(80 517.8363799323449 66.4662089083306)" fill="#ff0d0d" opacity="0.8192845157102648"/>
<ellipse cx="512.3334966284767" cy="69.03998810741271" rx="1.54" ry="1.13" transform="rotate(22 512.3334966284767 69.03998810741271)" fill="#ff0d0d" opacity="0.9495954089441367"/>
<ellipse cx="511.0926508888363" cy="67.60376253572836" rx="1.43" ry="0.88" transform="rotate(45 511.0926508888363 67.60376253572836)" fill="#ff0d0d" opacity="0.8745942074865944"/>
<ellipse cx="511.4756978045469" cy="66.99552978033049" rx="1.33" ry="1.07" transform="rotate(179 511.4756978045469 66.99552978033049)" fill="#ff0d0d" opacity="0.9156561511579903"/>
<ellipse cx="513.1641332949744" cy="67.24385271296927" rx="1.70" ry="0.90" transform="rotate(85 513.1641332949744 67.24385271296927)" fill="#ff0d0d" opacity="0.9306653104184802"/>
<ellipse cx="517.7827139797213" cy="66.74332803014865" rx="0.78" ry="0.63" transform="rotate(175 517.7827139797213 66.74332803014865)" fill="#ff0d0d" opacity="0.8587354931725453"/>
<ellipse cx="518.4914553771115" cy="68.52823891360651" rx="1.05" ry="0.75" transform="rotate(140 518.4914553771115 68.52823891360651)" fill="#ff0d0d" opacity="0.9732254656817898"/>
<ellipse cx="516.472277428081" cy="68.4725693909459" rx="1.02" ry="0.86" transform="rotate(25 516.472277428081 68.4725693909459)" fill="#ff0d0d" opacity="0.9239895959939057"/>
<ellipse cx="516.4806648788256" cy="68.640472321334" rx="1.01" ry="0.71" transform="rotate(59 516.4806648788256 68.640472321334)" fill="#ff0d0d" opacity="0.9303285642176198"/>
<ellipse cx="528.7" cy="70.1" rx="1.82" ry="1.14" transform="rotate(56 528.7 70.1)" fill="#ff0d0d" opacity="0.76"/>
<ellipse cx="539.5" cy="68" rx="1.05" ry="1.07" transform="rotate(99 539.5 68)" fill="#ff0d0d" opacity="0.475"/>
<ellipse cx="472.93494916800137" cy="76.36054661226093" rx="1.29" ry="1.05" transform="rotate(125 472.93494916800137 76.36054661226093)" fill="#ff0d0d" opacity="0.9278363891452509"/>
<ellipse cx="471.3378117452465" cy="77.12358658205517" rx="1.32" ry="1.16" transform="rotate(64 471.3378117452465 77.12358658205517)" fill="#ff0d0d" opacity="0.9906377673914443"/>
<ellipse cx="469.73949187571236" cy="75.78966859429356" rx="1.58" ry="1.57" transform="rotate(37 469.73949187571236 75.78966859429356)" fill="#ff0d0d" opacity="0.8727562750048611"/>
<ellipse cx="469.77608374776776" cy="75.2916445435829" rx="1.44" ry="1.37" transform="rotate(83 469.77608374776776 75.2916445435829)" fill="#ff0d0d" opacity="0.9640737162388683"/>
<ellipse cx="476.5774306325886" cy="75.40616167498219" rx="1.09" ry="1.09" transform="rotate(67 476.5774306325886 75.40616167498219)" fill="#ff0d0d" opacity="0.9819589024733293"/>
<ellipse cx="475.1099116582733" cy="74.92117858021862" rx="1.38" ry="0.75" transform="rotate(88 475.1099116582733 74.92117858021862)" fill="#ff0d0d" opacity="0.9042317750629564"/>
<ellipse cx="475.51682943356906" cy="72.75052344120247" rx="1.34" ry="1.07" transform="rotate(87 475.51682943356906 72.75052344120247)" fill="#ff0d0d" opacity="0.8253300709088032"/>
<ellipse cx="475.0850700818931" cy="72.96176257671782" rx="1.28" ry="1.09" transform="rotate(29 475.0850700818931 72.96176257671782)" fill="#ff0d0d" opacity="0.9808441694264267"/>
<ellipse cx="478.8" cy="72.2" rx="1.76" ry="1.08" transform="rotate(73 478.8 72.2)" fill="#ff0d0d" opacity="0.76"/>
<ellipse cx="483.68714578908026" cy="74.95162665793015" rx="1.14" ry="0.84" transform="rotate(22 483.68714578908026 74.95162665793015)" fill="#ff0d0d" opacity="0.8799491166152791"/>
<ellipse cx="484.47523335901417" cy="76.16135440156796" rx="1.48" ry="1.26" transform="rotate(7 484.47523335901417 76.16135440156796)" fill="#ff0d0d" opacity="0.8082198066768982"/>
<ellipse cx="482.2862531044304" cy="76.35459960031132" rx="1.38" ry="0.94" transform="rotate(76 482.2862531044304 76.35459960031132)" fill="#ff0d0d" opacity="0.9100103674069191"/>
<ellipse cx="482.022166071908" cy="75.25778680630718" rx="1.30" ry="0.82" transform="rotate(111 482.022166071908 75.25778680630718)" fill="#ff0d0d" opacity="0.8893578790181553"/>
<ellipse cx="475.9" cy="80.8" rx="1.56" ry="1.08" transform="rotate(137 475.9 80.8)" fill="#ff0d0d" opacity="0.76"/>
<ellipse cx="491" cy="83.7" rx="1.90" ry="1.30" transform="rotate(32 491 83.7)" fill="#ff0d0d" opacity="0.76"/>
<ellipse cx="493.4040920399054" cy="85.3031576769902" rx="1.47" ry="1.18" transform="rotate(7 493.4040920399054 85.3031576769902)" fill="#ff0d0d" opacity="0.8183426287804276"/>
<ellipse cx="494.4059620376189" cy="83.94379689464822" rx="1.68" ry="1.05" transform="rotate(91 494.4059620376189 83.94379689464822)" fill="#ff0d0d" opacity="0.9555272172695302"/>
<ellipse cx="496.165288285144" cy="83.95941826898796" rx="1.63" ry="1.16" transform="rotate(147 496.165288285144 83.95941826898796)" fill="#ff0d0d" opacity="0.9714140222465704"/>
<ellipse cx="496.51947765954895" cy="85.51543965770969" rx="1.82" ry="1.03" transform="rotate(142 496.51947765954895 85.51543965770969)" fill="#ff0d0d" opacity="0.9913278576895519"/>
<ellipse cx="492.0447376094878" cy="87.51305398501927" rx="1.62" ry="0.97" transform="rotate(147 492.0447376094878 87.51305398501927)" fill="#ff0d0d" opacity="0.8317534898576722"/>
<ellipse cx="491.9705411479858" cy="88.80602521568434" rx="1.30" ry="1.14" transform="rotate(57 491.9705411479858 88.80602521568434)" fill="#ff0d0d" opacity="0.8416646683095214"/>
<ellipse cx="490.93884337700973" cy="89.02929415626856" rx="1.20" ry="1.02" transform="rotate(30 490.93884337700973 89.02929415626856)" fill="#ff0d0d" opacity="0.9872807521793219"/>
<ellipse cx="490.9711094575027" cy="87.01756803812388" rx="1.20" ry="1.16" transform="rotate(100 490.9711094575027 87.01756803812388)" fill="#ff0d0d" opacity="0.9272637350235715"/>
<ellipse cx="499" cy="79.4" rx="1.62" ry="1.44" transform="rotate(19 499 79.4)" fill="#ff0d0d" opacity="0.76"/>
<ellipse cx="500.4" cy="88.7" rx="1.91" ry="1.30" transform="rotate(71 500.4 88.7)" fill="#ff0d0d" opacity="0.76"/>
<ellipse cx="501.8" cy="91.6" rx="1.77" ry="1.10" transform="rotate(178 501.8 91.6)" fill="#ff0d0d" opacity="0.76"/>
<ellipse cx="486.1174680251198" cy="95.9223727735637" rx="1.37" ry="0.77" transform="rotate(148 486.1174680251198 95.9223727735637)" fill="#ff0d0d" opacity="0.835351211749574"/>
<ellipse cx="487.59460942298205" cy="95.25374199065148" rx="1.59" ry="1.06" transform="rotate(0 487.59460942298205 95.25374199065148)" fill="#ff0d0d" opacity="0.9171740650064636"/>
<ellipse cx="488.23456737418627" cy="96.03551843358875" rx="1.32" ry="1.21" transform="rotate(24 488.23456737418627 96.03551843358875)" fill="#ff0d0d" opacity="0.8864465749527319"/>
<ellipse cx="488.1880139796793" cy="97.72097561386524" rx="0.98" ry="0.67" transform="rotate(64 488.1880139796793 97.72097561386524)" fill="#ff0d0d" opacity="0.8005230986582058"/>
<ellipse cx="493.2" cy="95.9" rx="1.49" ry="1.37" transform="rotate(106 493.2 95.9)" fill="#ff0d0d" opacity="0.76"/>
<ellipse cx="488.41341734648967" cy="102.05851160536538" rx="0.87" ry="0.64" transform="rotate(17 488.41341734648967 102.05851160536538)" fill="#ff0d0d" opacity="0.8885863648673185"/>
<ellipse cx="486.79686520570846" cy="101.38076151521598" rx="1.11" ry="0.76" transform="rotate(116 486.79686520570846 101.38076151521598)" fill="#ff0d0d" opacity="0.7923515204048358"/>
<ellipse cx="487.68492614834463" cy="100.06366361547191" rx="1.41" ry="1.02" transform="rotate(45 487.68492614834463 100.06366361547191)" fill="#ff0d0d" opacity="0.7998757628227671"/>
<ellipse cx="488.84956143197184" cy="101.35214875605304" rx="1.01" ry="0.71" transform="rotate(140 488.84956143197184 101.35214875605304)" fill="#ff0d0d" opacity="0.7930779703961195"/>
<ellipse cx="486.87271592208236" cy="104.62228504535807" rx="1.15" ry="0.86" transform="rotate(115 486.87271592208236 104.62228504535807)" fill="#ff0d0d" opacity="0.839903653440264"/>
<ellipse cx="485.0573304120052" cy="105.49662173561062" rx="0.95" ry="1.08" transform="rotate(141 485.0573304120052 105.49662173561062)" fill="#ff0d0d" opacity="0.8600532332449613"/>
<ellipse cx="484.4179719211687" cy="104.2993107052709" rx="1.40" ry="1.23" transform="rotate(81 484.4179719211687 104.2993107052709)" fill="#ff0d0d" opacity="0.9490374891642626"/>
<ellipse cx="484.46610411655206" cy="103.99323694574922" rx="1.06" ry="0.99" transform="rotate(125 484.46610411655206 103.99323694574922)" fill="#ff0d0d" opacity="0.8077635126162567"/>
<ellipse cx="499" cy="103.1" rx="1.94" ry="1.45" transform="rotate(48 499 103.1)" fill="#ff0d0d" opacity="0.76"/>
<ellipse cx="489.6" cy="106.7" rx="1.48" ry="1.10" transform="rotate(142 489.6 106.7)" fill="#ff0d0d" opacity="0.76"/>
<ellipse cx="506.1" cy="83.7" rx="1.59" ry="1.10" transform="rotate(116 506.1 83.7)" fill="#ff0d0d" opacity="0.76"/>
<ellipse cx="506.1" cy="75.8" rx="1.45" ry="0.83" transform="rotate(158 506.1 75.8)" fill="#ff0d0d" opacity="0.475"/>
<ellipse cx="522.3" cy="76.5" rx="1.33" ry="1.18" transform="rotate(42 522.3 76.5)" fill="#ff0d0d" opacity="0.76"/>
<ellipse cx="529.4447356630701" cy="76.46383393348253" rx="1.10" ry="0.82" transform="rotate(163 529.4447356630701 76.46383393348253)" fill="#ff0d0d" opacity="0.9760329595039892"/>
<ellipse cx="530.8976348856314" cy="77.841780897989" rx="1.32" ry="1.21" transform="rotate(126 530.8976348856314 77.841780897989)" fill="#ff0d0d" opacity="0.9958026819472848"/>
<ellipse cx="529.0680977124697" cy="79.03542286695607" rx="1.25" ry="0.93" transform="rotate(112 529.0680977124697 79.03542286695607)" fill="#ff0d0d" opacity="0.9140680952143054"/>
<ellipse cx="529.4533149677044" cy="79.45506799230189" rx="0.91" ry="1.03" transform="rotate(62 529.4533149677044 79.45506799230189)" fill="#ff0d0d" opacity="0.805380509960492"/>
<ellipse cx="514.9844654711151" cy="81.52337890663806" rx="1.47" ry="1.17" transform="rotate(12 514.9844654711151 81.52337890663806)" fill="#ff0d0d" opacity="0.926775625411639"/>
<ellipse cx="513.525859389762" cy="81.56505849432827" rx="1.65" ry="0.89" transform="rotate(156 513.525859389762 81.56505849432827)" fill="#ff0d0d" opacity="0.9639126666395279"/>
<ellipse cx="514.1245565528224" cy="79.24428120306516" rx="0.90" ry="0.67" transform="rotate(153 514.1245565528224 79.24428120306516)" fill="#ff0d0d" opacity="0.8411446827697164"/>
<ellipse cx="515.7296926422542" cy="80.53112655927723" rx="1.28" ry="0.91" transform="rotate(18 515.7296926422542 80.53112655927723)" fill="#ff0d0d" opacity="0.9263072991851855"/>
<ellipse cx="506.4522548421207" cy="82.57142910512248" rx="1.10" ry="0.87" transform="rotate(129 506.4522548421207 82.57142910512248)" fill="#ff0d0d" opacity="0.804183692262919"/>
<ellipse cx="507.50993099214315" cy="83.48273100449364" rx="1.70" ry="1.21" transform="rotate(6 507.50993099214315 83.48273100449364)" fill="#ff0d0d" opacity="0.9007474638165277"/>
<ellipse cx="506.8187174123944" cy="84.83976466531078" rx="1.51" ry="1.10" transform="rotate(39 506.8187174123944 84.83976466531078)" fill="#ff0d0d" opacity="0.8693563334181036"/>
<ellipse cx="505.6384509519016" cy="83.10660439308084" rx="1.10" ry="0.96" transform="rotate(137 505.6384509519016 83.10660439308084)" fill="#ff0d0d" opacity="0.834074252003517"/>
<ellipse cx="525.0792120061708" cy="84.20694133636748" rx="1.21" ry="1.09" transform="rotate(62 525.0792120061708 84.20694133636748)" fill="#ff0d0d" opacity="0.959354379512876"/>
<ellipse cx="523.6531451952018" cy="85.60755138972925" rx="1.43" ry="1.39" transform="rotate(90 523.6531451952018 85.60755138972925)" fill="#ff0d0d" opacity="0.856745950602354"/>
<ellipse cx="522.9923953450966" cy="85.73306292842086" rx="1.29" ry="1.05" transform="rotate(113 522.9923953450966 85.73306292842086)" fill="#ff0d0d" opacity="0.9575828149782348"/>
<ellipse cx="522.6723980586695" cy="83.56986824983801" rx="1.11" ry="1.24" transform="rotate(5 522.6723980586695 83.56986824983801)" fill="#ff0d0d" opacity="0.9780814882296618"/>
<ellipse cx="524.0748222536648" cy="88.32477395936907" rx="1.31" ry="0.77" transform="rotate(83 524.0748222536648 88.32477395936907)" fill="#ff0d0d" opacity="0.8758610293007044"/>
<ellipse cx="522.5030861913289" cy="87.46166924826616" rx="1.14" ry="0.88" transform="rotate(28 522.5030861913289 87.46166924826616)" fill="#ff0d0d" opacity="0.929259976795143"/>
<ellipse cx="523.8225016143764" cy="85.78240277172856" rx="1.19" ry="1.07" transform="rotate(104 523.8225016143764 85.78240277172856)" fill="#ff0d0d" opacity="0.8339101068126517"/>
<ellipse cx="523.6157533199151" cy="85.90755212199969" rx="1.11" ry="0.91" transform="rotate(127 523.6157533199151 85.90755212199969)" fill="#ff0d0d" opacity="0.8475880824144235"/>
<ellipse cx="529.261945587327" cy="81.35798567515687" rx="1.16" ry="0.76" transform="rotate(59 529.261945587327 81.35798567515687)" fill="#ff0d0d" opacity="0.8653125146074521"/>
<ellipse cx="530.2738632783119" cy="82.49950006824557" rx="1.64" ry="0.88" transform="rotate(69 530.2738632783119 82.49950006824557)" fill="#ff0d0d" opacity="0.8203613134691142"/>
<ellipse cx="527.3184602102367" cy="82.70899084420945" rx="1.19" ry="1.14" transform="rotate(19 527.3184602102367 82.70899084420945)" fill="#ff0d0d" opacity="0.8869846005347678"/>
<ellipse cx="527.7046621035471" cy="82.83306557212683" rx="1.18" ry="0.89" transform="rotate(90 527.7046621035471 82.83306557212683)" fill="#ff0d0d" opacity="0.8798042250489111"/>
<ellipse cx="533.675001963199" cy="83.49473700461797" rx="1.77" ry="1.48" transform="rotate(77 533.675001963199 83.49473700461797)" fill="#ff0d0d" opacity="0.8809426739894117"/>
<ellipse cx="535.7341316866141" cy="83.14631266149205" rx="1.64" ry="1.37" transform="rotate(139 535.7341316866141 83.14631266149205)" fill="#ff0d0d" opacity="0.8457129235087272"/>
<ellipse cx="535.5757459960121" cy="85.90526681939453" rx="1.61" ry="1.18" transform="rotate(113 535.5757459960121 85.90526681939453)" fill="#ff0d0d" opacity="0.9283077644172542"/>
<ellipse cx="535.3493580975743" cy="85.59884520658503" rx="1.80" ry="1.18" transform="rotate(76 535.3493580975743 85.59884520658503)" fill="#ff0d0d" opacity="0.9426300953516893"/>
<ellipse cx="511.5" cy="86.5" rx="1.54" ry="1.29" transform="rotate(74 511.5 86.5)" fill="#ff0d0d" opacity="0.76"/>
<ellipse cx="507.9" cy="86.5" rx="1.69" ry="1.46" transform="rotate(33 507.9 86.5)" fill="#ff0d0d" opacity="0.76"/>
<ellipse cx="511.5336891828278" cy="89.12628378376262" rx="1.01" ry="1.00" transform="rotate(29 511.5336891828278 89.12628378376262)" fill="#ff0d0d" opacity="0.9949239121472537"/>
<ellipse cx="513.6081308115646" cy="89.38950686183186" rx="1.31" ry="1.01" transform="rotate(129 513.6081308115646 89.38950686183186)" fill="#ff0d0d" opacity="0.8202173990713947"/>
<ellipse cx="513.1943292858606" cy="91.02824493067624" rx="1.36" ry="1.33" transform="rotate(38 513.1943292858606 91.02824493067624)" fill="#ff0d0d" opacity="0.9043376540286121"/>
<ellipse cx="511.1428254055719" cy="90.63001201790568" rx="1.67" ry="1.01" transform="rotate(10 511.1428254055719 90.63001201790568)" fill="#ff0d0d" opacity="0.824478925360898"/>
<ellipse cx="507.76133949779285" cy="94.5989508817355" rx="1.33" ry="0.90" transform="rotate(48 507.76133949779285 94.5989508817355)" fill="#ff0d0d" opacity="0.8841094130703282"/>
<ellipse cx="506.499389978136" cy="94.0069898439509" rx="1.28" ry="1.30" transform="rotate(71 506.499389978136 94.0069898439509)" fill="#ff0d0d" opacity="0.9054152890615181"/>
<ellipse cx="507.3335905984975" cy="92.8842678806558" rx="1.47" ry="1.07" transform="rotate(101 507.3335905984975 92.8842678806558)" fill="#ff0d0d" opacity="0.9619144824123287"/>
<ellipse cx="508.82825060139453" cy="92.40418744772947" rx="1.36" ry="1.07" transform="rotate(84 508.82825060139453 92.40418744772947)" fill="#ff0d0d" opacity="0.9277592969398186"/>
<ellipse cx="517.7276968153143" cy="93.25193894367764" rx="1.63" ry="0.99" transform="rotate(68 517.7276968153143 93.25193894367764)" fill="#ff0d0d" opacity="0.8709492337459228"/>
<ellipse cx="516.7956747653745" cy="92.37717140745625" rx="1.23" ry="0.79" transform="rotate(44 516.7956747653745 92.37717140745625)" fill="#ff0d0d" opacity="0.8005390104732463"/>
<ellipse cx="517.6086263648024" cy="91.11782442038756" rx="1.32" ry="0.90" transform="rotate(167 517.6086263648024 91.11782442038756)" fill="#ff0d0d" opacity="0.9274602384648047"/>
<ellipse cx="518.6045140249765" cy="93.02125188074625" rx="1.59" ry="0.93" transform="rotate(150 518.6045140249765 93.02125188074625)" fill="#ff0d0d" opacity="0.9811611895631267"/>
<ellipse cx="517.2" cy="89.4" rx="1.66" ry="0.96" transform="rotate(2 517.2 89.4)" fill="#ff0d0d" opacity="0.76"/>
<ellipse cx="533.8" cy="91.6" rx="2.02" ry="1.41" transform="rotate(45 533.8 91.6)" fill="#ff0d0d" opacity="0.76"/>
<ellipse cx="529.5" cy="95.2" rx="1.40" ry="1.11" transform="rotate(42 529.5 95.2)" fill="#ff0d0d" opacity="0.76"/>
<ellipse cx="528.16616405401" cy="103.5038396055406" rx="1.24" ry="1.33" transform="rotate(110 528.16616405401 103.5038396055406)" fill="#ff0d0d" opacity="0.9583348699428464"/>
<ellipse cx="529.3205562166185" cy="104.90508336158148" rx="1.65" ry="0.98" transform="rotate(125 529.3205562166185 104.90508336158148)" fill="#ff0d0d" opacity="0.9576147655197907"/>
<ellipse cx="528.0299405547387" cy="105.93386403542631" rx="1.26" ry="0.87" transform="rotate(42 528.0299405547387 105.93386403542631)" fill="#ff0d0d" opacity="0.9765364946677992"/>
<ellipse cx="527.5113856379933" cy="105.65599275956791" rx="0.90" ry="0.83" transform="rotate(90 527.5113856379933 105.65599275956791)" fill="#ff0d0d" opacity="0.893418831982409"/>
<ellipse cx="531.6" cy="104.5" rx="1.60" ry="1.43" transform="rotate(1 531.6 104.5)" fill="#ff0d0d" opacity="0.76"/>
<ellipse cx="543.1" cy="72.9" rx="1.80" ry="1.21" transform="rotate(101 543.1 72.9)" fill="#ff0d0d" opacity="0.76"/>
<ellipse cx="510" cy="96.6" rx="1.29" ry="1.09" transform="rotate(67 510 96.6)" fill="#ff0d0d" opacity="0.57"/>
<ellipse cx="525.1" cy="87.3" rx="1.40" ry="1.37" transform="rotate(14 525.1 87.3)" fill="#ff0d0d" opacity="0.76"/>
</g></g>
<text x="392.2" y="96.0" font-size="6.0" font-weight="bold" text-anchor="start" fill="#fff" stroke="#fff" stroke-width="0.15">20 µm</text>
<line x1="397.2" y1="102.3" x2="402.1" y2="102.3" stroke="#fff" stroke-width="1.4"/>
<line x1="477.4" y1="102.0" x2="482.4" y2="102.0" stroke="#fff" stroke-width="1.4"/>
<text x="3.2" y="165.0" font-size="15.3" font-weight="bold" text-anchor="start" fill="#111" stroke="#111" stroke-width="0.4">D</text>
<line x1="48.6" y1="172.4" x2="48.6" y2="253.7" stroke="#000" stroke-width="1.2"/>
<line x1="48.6" y1="172.4" x2="50.800000000000004" y2="172.4" stroke="#000" stroke-width="1.15"/>
<text x="0" y="0" font-size="7.3" font-weight="bold" text-anchor="end" fill="#111" transform="translate(41.4 175.327008) scale(1 1.12)" stroke="#111" stroke-width="0.4">350</text>
<line x1="48.6" y1="183.94285714285715" x2="50.800000000000004" y2="183.94285714285715" stroke="#000" stroke-width="1.15"/>
<text x="0" y="0" font-size="7.3" font-weight="bold" text-anchor="end" fill="#111" transform="translate(41.4 186.86986514285715) scale(1 1.12)" stroke="#111" stroke-width="0.4">300</text>
<line x1="48.6" y1="195.4857142857143" x2="50.800000000000004" y2="195.4857142857143" stroke="#000" stroke-width="1.15"/>
<text x="0" y="0" font-size="7.3" font-weight="bold" text-anchor="end" fill="#111" transform="translate(41.4 198.4127222857143) scale(1 1.12)" stroke="#111" stroke-width="0.4">250</text>
<line x1="48.6" y1="207.0285714285714" x2="50.800000000000004" y2="207.0285714285714" stroke="#000" stroke-width="1.15"/>
<text x="0" y="0" font-size="7.3" font-weight="bold" text-anchor="end" fill="#111" transform="translate(41.4 209.9555794285714) scale(1 1.12)" stroke="#111" stroke-width="0.4">200</text>
<line x1="48.6" y1="218.57142857142856" x2="50.800000000000004" y2="218.57142857142856" stroke="#000" stroke-width="1.15"/>
<text x="0" y="0" font-size="7.3" font-weight="bold" text-anchor="end" fill="#111" transform="translate(41.4 221.49843657142856) scale(1 1.12)" stroke="#111" stroke-width="0.4">150</text>
<line x1="48.6" y1="230.1142857142857" x2="50.800000000000004" y2="230.1142857142857" stroke="#000" stroke-width="1.15"/>
<text x="0" y="0" font-size="7.3" font-weight="bold" text-anchor="end" fill="#111" transform="translate(41.4 233.0412937142857) scale(1 1.12)" stroke="#111" stroke-width="0.4">100</text>
<line x1="48.6" y1="241.65714285714284" x2="50.800000000000004" y2="241.65714285714284" stroke="#000" stroke-width="1.15"/>
<text x="0" y="0" font-size="7.3" font-weight="bold" text-anchor="end" fill="#111" transform="translate(41.4 244.58415085714284) scale(1 1.12)" stroke="#111" stroke-width="0.4">50</text>
<line x1="48.6" y1="253.2" x2="50.800000000000004" y2="253.2" stroke="#000" stroke-width="1.15"/>
<text x="0" y="0" font-size="7.3" font-weight="bold" text-anchor="end" fill="#111" transform="translate(41.4 256.127008) scale(1 1.12)" stroke="#111" stroke-width="0.4">0</text>
<line x1="48.1" y1="253.2" x2="114.0" y2="253.2" stroke="#000" stroke-width="1.2"/>
<line x1="80.6" y1="253.2" x2="80.6" y2="251.2" stroke="#000" stroke-width="1"/>
<line x1="113.5" y1="253.2" x2="113.5" y2="251.2" stroke="#000" stroke-width="1"/>
<rect x="57.9" y="230.3" width="12.899999999999999" height="22.899999999999977" fill="#E46C0A"/>
<line x1="64.35" y1="228.3" x2="64.35" y2="230.3" stroke="#E46C0A" stroke-width="1"/>
<line x1="62.49999999999999" y1="228.3" x2="66.19999999999999" y2="228.3" stroke="#E46C0A" stroke-width="1"/>
<rect x="90.5" y="187.7" width="12.900000000000006" height="65.5" fill="#E46C0A"/>
<line x1="96.95" y1="181.9" x2="96.95" y2="187.7" stroke="#E46C0A" stroke-width="1"/>
<line x1="95.10000000000001" y1="181.9" x2="98.8" y2="181.9" stroke="#E46C0A" stroke-width="1"/>
<circle cx="95.05" cy="179.80" r="1.2" fill="#3a3a3a"/>
<circle cx="98.85" cy="179.80" r="1.2" fill="#3a3a3a"/>
<text x="64.5" y="265.1" font-size="7.6" font-weight="bold" text-anchor="middle" fill="#111" stroke="#111" stroke-width="0.4">Control</text>
<text x="96.9" y="265.1" font-size="7.6" font-weight="bold" text-anchor="middle" fill="#111" stroke="#111" stroke-width="0.4">6c</text>
<text x="13.1" y="213.4" font-size="8.3" font-weight="bold" text-anchor="middle" fill="#111" transform="rotate(-90 13.1 213.4)" stroke="#111" stroke-width="0.4">Relative Fluorescent</text>
<text x="22.4" y="214.1" font-size="8.3" font-weight="bold" text-anchor="middle" fill="#111" transform="rotate(-90 22.4 214.1)" stroke="#111" stroke-width="0.4">Intensity</text>
<text x="134.9" y="164.8" font-size="15.3" font-weight="bold" text-anchor="start" fill="#111" stroke="#111" stroke-width="0.4">E</text>
<line x1="182.8" y1="170.5" x2="182.8" y2="253.5" stroke="#000" stroke-width="1.2"/>
<line x1="182.8" y1="170.5" x2="185.0" y2="170.5" stroke="#000" stroke-width="1.15"/>
<text x="0" y="0" font-size="8" font-weight="bold" text-anchor="end" fill="#111" transform="translate(175.9 173.70768) scale(1 1.12)" stroke="#111" stroke-width="0.4">250</text>
<line x1="182.8" y1="187.0" x2="185.0" y2="187.0" stroke="#000" stroke-width="1.15"/>
<text x="0" y="0" font-size="8" font-weight="bold" text-anchor="end" fill="#111" transform="translate(175.9 190.20768) scale(1 1.12)" stroke="#111" stroke-width="0.4">200</text>
<line x1="182.8" y1="203.5" x2="185.0" y2="203.5" stroke="#000" stroke-width="1.15"/>
<text x="0" y="0" font-size="8" font-weight="bold" text-anchor="end" fill="#111" transform="translate(175.9 206.70768) scale(1 1.12)" stroke="#111" stroke-width="0.4">150</text>
<line x1="182.8" y1="220.0" x2="185.0" y2="220.0" stroke="#000" stroke-width="1.15"/>
<text x="0" y="0" font-size="8" font-weight="bold" text-anchor="end" fill="#111" transform="translate(175.9 223.20768) scale(1 1.12)" stroke="#111" stroke-width="0.4">100</text>
<line x1="182.8" y1="236.5" x2="185.0" y2="236.5" stroke="#000" stroke-width="1.15"/>
<text x="0" y="0" font-size="8" font-weight="bold" text-anchor="end" fill="#111" transform="translate(175.9 239.70768) scale(1 1.12)" stroke="#111" stroke-width="0.4">50</text>
<line x1="182.8" y1="253.0" x2="185.0" y2="253.0" stroke="#000" stroke-width="1.15"/>
<text x="0" y="0" font-size="8" font-weight="bold" text-anchor="end" fill="#111" transform="translate(175.9 256.20768) scale(1 1.12)" stroke="#111" stroke-width="0.4">0</text>
<line x1="182.3" y1="253.0" x2="240.8" y2="253.0" stroke="#000" stroke-width="1.2"/>
<line x1="202" y1="253.0" x2="202" y2="251.0" stroke="#000" stroke-width="1"/>
<line x1="221.2" y1="253.0" x2="221.2" y2="251.0" stroke="#000" stroke-width="1"/>
<line x1="240.3" y1="253.0" x2="240.3" y2="251.0" stroke="#000" stroke-width="1"/>
<rect x="188" y="220.1" width="8" height="32.900000000000006" fill="#E46C0A"/>
<line x1="192.0" y1="214.7" x2="192.0" y2="220.1" stroke="#E46C0A" stroke-width="1"/>
<line x1="190.2" y1="214.7" x2="193.8" y2="214.7" stroke="#E46C0A" stroke-width="1"/>
<rect x="207.6" y="183.6" width="8.0" height="69.4" fill="#E46C0A"/>
<line x1="211.6" y1="178.2" x2="211.6" y2="183.6" stroke="#E46C0A" stroke-width="1"/>
<line x1="209.9" y1="178.2" x2="213.29999999999998" y2="178.2" stroke="#E46C0A" stroke-width="1"/>
<circle cx="209.70" cy="174.50" r="1.2" fill="#3a3a3a"/>
<circle cx="213.50" cy="174.50" r="1.2" fill="#3a3a3a"/>
<rect x="227" y="199.8" width="8" height="53.19999999999999" fill="#E46C0A"/>
<line x1="231.0" y1="192.7" x2="231.0" y2="199.8" stroke="#E46C0A" stroke-width="1"/>
<line x1="229.3" y1="192.7" x2="232.7" y2="192.7" stroke="#E46C0A" stroke-width="1"/>
<text x="231.0" y="191.0" font-size="4.5" font-weight="normal" text-anchor="middle" fill="#777" >#</text>
<text x="178.3" y="264.1" font-size="7" font-weight="bold" text-anchor="end" fill="#111" stroke="#111" stroke-width="0.4">6c</text>
<text x="180.2" y="271.9" font-size="7" font-weight="bold" text-anchor="end" fill="#111" stroke="#111" stroke-width="0.4">Mito-Q</text>
<text x="193" y="264.1" font-size="7" font-weight="bold" text-anchor="middle" fill="#111" stroke="#111" stroke-width="0.4">-</text>
<text x="193" y="271.9" font-size="7" font-weight="bold" text-anchor="middle" fill="#111" stroke="#111" stroke-width="0.4">-</text>
<text x="210.8" y="264.1" font-size="7" font-weight="bold" text-anchor="middle" fill="#111" stroke="#111" stroke-width="0.4">+</text>
<text x="210.8" y="271.9" font-size="7" font-weight="bold" text-anchor="middle" fill="#111" stroke="#111" stroke-width="0.4">-</text>
<text x="231.8" y="264.1" font-size="7" font-weight="bold" text-anchor="middle" fill="#111" stroke="#111" stroke-width="0.4">+</text>
<text x="231.8" y="271.9" font-size="7" font-weight="bold" text-anchor="middle" fill="#111" stroke="#111" stroke-width="0.4">+</text>
<text x="149.9" y="210.4" font-size="8.3" font-weight="bold" text-anchor="middle" fill="#111" transform="rotate(-90 149.9 210.4)" stroke="#111" stroke-width="0.4">Relative Fluorescent</text>
<text x="159.1" y="208.5" font-size="8.3" font-weight="bold" text-anchor="middle" fill="#111" transform="rotate(-90 159.1 208.5)" stroke="#111" stroke-width="0.4">Intensity</text>
<line x1="276.9" y1="169.0" x2="276.9" y2="253.0" stroke="#000" stroke-width="1.2"/>
<line x1="276.9" y1="169.0" x2="279.09999999999997" y2="169.0" stroke="#000" stroke-width="1.15"/>
<text x="0" y="0" font-size="8" font-weight="bold" text-anchor="end" fill="#111" transform="translate(269.8 172.20768) scale(1 1.12)" stroke="#111" stroke-width="0.4">300</text>
<line x1="276.9" y1="182.91666666666666" x2="279.09999999999997" y2="182.91666666666666" stroke="#000" stroke-width="1.15"/>
<text x="0" y="0" font-size="8" font-weight="bold" text-anchor="end" fill="#111" transform="translate(269.8 186.12434666666667) scale(1 1.12)" stroke="#111" stroke-width="0.4">250</text>
<line x1="276.9" y1="196.83333333333334" x2="279.09999999999997" y2="196.83333333333334" stroke="#000" stroke-width="1.15"/>
<text x="0" y="0" font-size="8" font-weight="bold" text-anchor="end" fill="#111" transform="translate(269.8 200.04101333333335) scale(1 1.12)" stroke="#111" stroke-width="0.4">200</text>
<line x1="276.9" y1="210.75" x2="279.09999999999997" y2="210.75" stroke="#000" stroke-width="1.15"/>
<text x="0" y="0" font-size="8" font-weight="bold" text-anchor="end" fill="#111" transform="translate(269.8 213.95768) scale(1 1.12)" stroke="#111" stroke-width="0.4">150</text>
<line x1="276.9" y1="224.66666666666666" x2="279.09999999999997" y2="224.66666666666666" stroke="#000" stroke-width="1.15"/>
<text x="0" y="0" font-size="8" font-weight="bold" text-anchor="end" fill="#111" transform="translate(269.8 227.87434666666667) scale(1 1.12)" stroke="#111" stroke-width="0.4">100</text>
<line x1="276.9" y1="238.58333333333331" x2="279.09999999999997" y2="238.58333333333331" stroke="#000" stroke-width="1.15"/>
<text x="0" y="0" font-size="8" font-weight="bold" text-anchor="end" fill="#111" transform="translate(269.8 241.79101333333332) scale(1 1.12)" stroke="#111" stroke-width="0.4">50</text>
<line x1="276.9" y1="252.5" x2="279.09999999999997" y2="252.5" stroke="#000" stroke-width="1.15"/>
<text x="0" y="0" font-size="8" font-weight="bold" text-anchor="end" fill="#111" transform="translate(269.8 255.70768) scale(1 1.12)" stroke="#111" stroke-width="0.4">0</text>
<line x1="276.4" y1="252.5" x2="331.8" y2="252.5" stroke="#000" stroke-width="1.2"/>
<line x1="294.9" y1="252.5" x2="294.9" y2="250.5" stroke="#000" stroke-width="1"/>
<line x1="313.1" y1="252.5" x2="313.1" y2="250.5" stroke="#000" stroke-width="1"/>
<line x1="331.3" y1="252.5" x2="331.3" y2="250.5" stroke="#000" stroke-width="1"/>
<rect x="282.2" y="225.2" width="7.199999999999989" height="27.30000000000001" fill="#E46C0A"/>
<line x1="285.79999999999995" y1="221.9" x2="285.79999999999995" y2="225.2" stroke="#E46C0A" stroke-width="1"/>
<line x1="283.79999999999995" y1="221.9" x2="287.79999999999995" y2="221.9" stroke="#E46C0A" stroke-width="1"/>
<rect x="300.2" y="188.5" width="7.400000000000034" height="64.0" fill="#E46C0A"/>
<line x1="303.9" y1="183.7" x2="303.9" y2="188.5" stroke="#E46C0A" stroke-width="1"/>
<line x1="301.9" y1="183.7" x2="305.9" y2="183.7" stroke="#E46C0A" stroke-width="1"/>
<circle cx="302.00" cy="180.60" r="1.2" fill="#3a3a3a"/>
<circle cx="305.80" cy="180.60" r="1.2" fill="#3a3a3a"/>
<rect x="318.6" y="207.9" width="7.2999999999999545" height="44.599999999999994" fill="#E46C0A"/>
<line x1="322.25" y1="204.5" x2="322.25" y2="207.9" stroke="#E46C0A" stroke-width="1"/>
<line x1="320.25" y1="204.5" x2="324.25" y2="204.5" stroke="#E46C0A" stroke-width="1"/>
<text x="322.25" y="202.2" font-size="4.5" font-weight="normal" text-anchor="middle" fill="#777" >#</text>
<text x="275.0" y="264.0" font-size="7" font-weight="bold" text-anchor="end" fill="#111" stroke="#111" stroke-width="0.4">6c</text>
<text x="275.2" y="272.4" font-size="6.8" font-weight="bold" text-anchor="end" fill="#111" stroke="#111" stroke-width="0.4">Lipoic acid</text>
<text x="285.9" y="264.0" font-size="7" font-weight="bold" text-anchor="middle" fill="#111" stroke="#111" stroke-width="0.4">-</text>
<text x="285.9" y="272.4" font-size="7" font-weight="bold" text-anchor="middle" fill="#111" stroke="#111" stroke-width="0.4">-</text>
<text x="304.1" y="264.0" font-size="7" font-weight="bold" text-anchor="middle" fill="#111" stroke="#111" stroke-width="0.4">+</text>
<text x="304.1" y="272.4" font-size="7" font-weight="bold" text-anchor="middle" fill="#111" stroke="#111" stroke-width="0.4">-</text>
<text x="323.6" y="264.0" font-size="7" font-weight="bold" text-anchor="middle" fill="#111" stroke="#111" stroke-width="0.4">+</text>
<text x="323.6" y="272.4" font-size="7" font-weight="bold" text-anchor="middle" fill="#111" stroke="#111" stroke-width="0.4">+</text>
<text x="342.4" y="165.2" font-size="15.3" font-weight="bold" text-anchor="start" fill="#111" stroke="#111" stroke-width="0.4">F</text>
<line x1="387.5" y1="166.9" x2="387.5" y2="253.5" stroke="#000" stroke-width="1.2"/>
<line x1="387.5" y1="166.9" x2="389.7" y2="166.9" stroke="#000" stroke-width="1.15"/>
<text x="0" y="0" font-size="8" font-weight="bold" text-anchor="end" fill="#111" transform="translate(380.2 170.10768000000002) scale(1 1.12)" stroke="#111" stroke-width="0.4">140</text>
<line x1="387.5" y1="179.20000000000002" x2="389.7" y2="179.20000000000002" stroke="#000" stroke-width="1.15"/>
<text x="0" y="0" font-size="8" font-weight="bold" text-anchor="end" fill="#111" transform="translate(380.2 182.40768000000003) scale(1 1.12)" stroke="#111" stroke-width="0.4">120</text>
<line x1="387.5" y1="191.5" x2="389.7" y2="191.5" stroke="#000" stroke-width="1.15"/>
<text x="0" y="0" font-size="8" font-weight="bold" text-anchor="end" fill="#111" transform="translate(380.2 194.70768) scale(1 1.12)" stroke="#111" stroke-width="0.4">100</text>
<line x1="387.5" y1="203.8" x2="389.7" y2="203.8" stroke="#000" stroke-width="1.15"/>
<text x="0" y="0" font-size="8" font-weight="bold" text-anchor="end" fill="#111" transform="translate(380.2 207.00768000000002) scale(1 1.12)" stroke="#111" stroke-width="0.4">80</text>
<line x1="387.5" y1="216.1" x2="389.7" y2="216.1" stroke="#000" stroke-width="1.15"/>
<text x="0" y="0" font-size="8" font-weight="bold" text-anchor="end" fill="#111" transform="translate(380.2 219.30768) scale(1 1.12)" stroke="#111" stroke-width="0.4">60</text>
<line x1="387.5" y1="228.4" x2="389.7" y2="228.4" stroke="#000" stroke-width="1.15"/>
<text x="0" y="0" font-size="8" font-weight="bold" text-anchor="end" fill="#111" transform="translate(380.2 231.60768000000002) scale(1 1.12)" stroke="#111" stroke-width="0.4">40</text>
<line x1="387.5" y1="240.7" x2="389.7" y2="240.7" stroke="#000" stroke-width="1.15"/>
<text x="0" y="0" font-size="8" font-weight="bold" text-anchor="end" fill="#111" transform="translate(380.2 243.90768) scale(1 1.12)" stroke="#111" stroke-width="0.4">20</text>
<line x1="387.5" y1="253.0" x2="389.7" y2="253.0" stroke="#000" stroke-width="1.15"/>
<text x="0" y="0" font-size="8" font-weight="bold" text-anchor="end" fill="#111" transform="translate(380.2 256.20768) scale(1 1.12)" stroke="#111" stroke-width="0.4">0</text>
<line x1="387.0" y1="253.0" x2="448.9" y2="253.0" stroke="#000" stroke-width="1.2"/>
<line x1="407.9" y1="253.0" x2="407.9" y2="251.0" stroke="#000" stroke-width="1"/>
<line x1="428.2" y1="253.0" x2="428.2" y2="251.0" stroke="#000" stroke-width="1"/>
<line x1="448.4" y1="253.0" x2="448.4" y2="251.0" stroke="#000" stroke-width="1"/>
<rect x="393.7" y="190.5" width="8.0" height="62.5" fill="#E46C0A"/>
<line x1="397.7" y1="183.9" x2="397.7" y2="190.5" stroke="#E46C0A" stroke-width="1"/>
<line x1="396.2" y1="183.9" x2="399.2" y2="183.9" stroke="#E46C0A" stroke-width="1"/>
<rect x="414" y="234.2" width="8.100000000000023" height="18.80000000000001" fill="#E46C0A"/>
<line x1="418.05" y1="230" x2="418.05" y2="234.2" stroke="#E46C0A" stroke-width="1"/>
<line x1="416.55" y1="230" x2="419.55" y2="230" stroke="#E46C0A" stroke-width="1"/>
<circle cx="414.25" cy="226.80" r="1.2" fill="#3a3a3a"/>
<circle cx="418.05" cy="226.80" r="1.2" fill="#3a3a3a"/>
<circle cx="421.85" cy="226.80" r="1.2" fill="#3a3a3a"/>
<rect x="434.3" y="224.1" width="8.0" height="28.900000000000006" fill="#E46C0A"/>
<line x1="438.3" y1="219.3" x2="438.3" y2="224.1" stroke="#E46C0A" stroke-width="1"/>
<line x1="436.8" y1="219.3" x2="439.8" y2="219.3" stroke="#E46C0A" stroke-width="1"/>
<text x="438.3" y="217.0" font-size="4.5" font-weight="normal" text-anchor="middle" fill="#777" >#</text>
<text x="383.2" y="266.4" font-size="7" font-weight="bold" text-anchor="end" fill="#111" stroke="#111" stroke-width="0.4">6c</text>
<text x="385.9" y="274.4" font-size="7" font-weight="bold" text-anchor="end" fill="#111" stroke="#111" stroke-width="0.4">Mito-Q</text>
<text x="398.6" y="266.4" font-size="7" font-weight="bold" text-anchor="middle" fill="#111" stroke="#111" stroke-width="0.4">-</text>
<text x="398.6" y="274.4" font-size="7" font-weight="bold" text-anchor="middle" fill="#111" stroke="#111" stroke-width="0.4">-</text>
<text x="417.5" y="266.4" font-size="7" font-weight="bold" text-anchor="middle" fill="#111" stroke="#111" stroke-width="0.4">+</text>
<text x="417.5" y="274.4" font-size="7" font-weight="bold" text-anchor="middle" fill="#111" stroke="#111" stroke-width="0.4">-</text>
<text x="439.2" y="266.4" font-size="7" font-weight="bold" text-anchor="middle" fill="#111" stroke="#111" stroke-width="0.4">+</text>
<text x="439.2" y="274.4" font-size="7" font-weight="bold" text-anchor="middle" fill="#111" stroke="#111" stroke-width="0.4">+</text>
<text x="353.2" y="205.3" font-size="8.6" font-weight="bold" text-anchor="middle" fill="#111" transform="rotate(-90 353.2 205.3)" word-spacing="1.2" stroke="#111" stroke-width="0.25">Cell Viability</text>
<text x="362.5" y="205.7" font-size="8.3" font-weight="bold" text-anchor="middle" fill="#111" transform="rotate(-90 362.5 205.7)" stroke="#111" stroke-width="0.4">(% of control)</text>
<line x1="488.9" y1="168.2" x2="488.9" y2="253.4" stroke="#000" stroke-width="1.2"/>
<line x1="488.9" y1="168.2" x2="491.09999999999997" y2="168.2" stroke="#000" stroke-width="1.15"/>
<text x="0" y="0" font-size="8" font-weight="bold" text-anchor="end" fill="#111" transform="translate(481.4 171.40768) scale(1 1.12)" stroke="#111" stroke-width="0.4">140</text>
<line x1="488.9" y1="180.29999999999998" x2="491.09999999999997" y2="180.29999999999998" stroke="#000" stroke-width="1.15"/>
<text x="0" y="0" font-size="8" font-weight="bold" text-anchor="end" fill="#111" transform="translate(481.4 183.50768) scale(1 1.12)" stroke="#111" stroke-width="0.4">120</text>
<line x1="488.9" y1="192.4" x2="491.09999999999997" y2="192.4" stroke="#000" stroke-width="1.15"/>
<text x="0" y="0" font-size="8" font-weight="bold" text-anchor="end" fill="#111" transform="translate(481.4 195.60768000000002) scale(1 1.12)" stroke="#111" stroke-width="0.4">100</text>
<line x1="488.9" y1="204.5" x2="491.09999999999997" y2="204.5" stroke="#000" stroke-width="1.15"/>
<text x="0" y="0" font-size="8" font-weight="bold" text-anchor="end" fill="#111" transform="translate(481.4 207.70768) scale(1 1.12)" stroke="#111" stroke-width="0.4">80</text>
<line x1="488.9" y1="216.6" x2="491.09999999999997" y2="216.6" stroke="#000" stroke-width="1.15"/>
<text x="0" y="0" font-size="8" font-weight="bold" text-anchor="end" fill="#111" transform="translate(481.4 219.80768) scale(1 1.12)" stroke="#111" stroke-width="0.4">60</text>
<line x1="488.9" y1="228.7" x2="491.09999999999997" y2="228.7" stroke="#000" stroke-width="1.15"/>
<text x="0" y="0" font-size="8" font-weight="bold" text-anchor="end" fill="#111" transform="translate(481.4 231.90768) scale(1 1.12)" stroke="#111" stroke-width="0.4">40</text>
<line x1="488.9" y1="240.8" x2="491.09999999999997" y2="240.8" stroke="#000" stroke-width="1.15"/>
<text x="0" y="0" font-size="8" font-weight="bold" text-anchor="end" fill="#111" transform="translate(481.4 244.00768000000002) scale(1 1.12)" stroke="#111" stroke-width="0.4">20</text>
<line x1="488.9" y1="252.9" x2="491.09999999999997" y2="252.9" stroke="#000" stroke-width="1.15"/>
<text x="0" y="0" font-size="8" font-weight="bold" text-anchor="end" fill="#111" transform="translate(481.4 256.10768) scale(1 1.12)" stroke="#111" stroke-width="0.4">0</text>
<line x1="488.4" y1="252.9" x2="549.2" y2="252.9" stroke="#000" stroke-width="1.2"/>
<line x1="508.1" y1="252.9" x2="508.1" y2="250.9" stroke="#000" stroke-width="1"/>
<line x1="527.6" y1="252.9" x2="527.6" y2="250.9" stroke="#000" stroke-width="1"/>
<line x1="548.7" y1="252.9" x2="548.7" y2="250.9" stroke="#000" stroke-width="1"/>
<rect x="494" y="192.8" width="8" height="60.099999999999994" fill="#E46C0A"/>
<line x1="498.0" y1="190" x2="498.0" y2="192.8" stroke="#E46C0A" stroke-width="1"/>
<line x1="496.5" y1="190" x2="499.5" y2="190" stroke="#E46C0A" stroke-width="1"/>
<rect x="513.5" y="232.4" width="8.0" height="20.5" fill="#E46C0A"/>
<line x1="517.5" y1="230.9" x2="517.5" y2="232.4" stroke="#E46C0A" stroke-width="1"/>
<line x1="516.0" y1="230.9" x2="519.0" y2="230.9" stroke="#E46C0A" stroke-width="1"/>
<circle cx="513.70" cy="226.50" r="1.2" fill="#3a3a3a"/>
<circle cx="517.50" cy="226.50" r="1.2" fill="#3a3a3a"/>
<circle cx="521.30" cy="226.50" r="1.2" fill="#3a3a3a"/>
<rect x="532.9" y="218.8" width="8.200000000000045" height="34.099999999999994" fill="#E46C0A"/>
<line x1="537.0" y1="216.8" x2="537.0" y2="218.8" stroke="#E46C0A" stroke-width="1"/>
<line x1="535.5" y1="216.8" x2="538.5" y2="216.8" stroke="#E46C0A" stroke-width="1"/>
<text x="537.0" y="212.0" font-size="4.5" font-weight="normal" text-anchor="middle" fill="#777" >#</text>
<text x="487.0" y="264.8" font-size="7" font-weight="bold" text-anchor="end" fill="#111" stroke="#111" stroke-width="0.4">6c</text>
<text x="487.0" y="272.8" font-size="6.8" font-weight="bold" text-anchor="end" fill="#111" stroke="#111" stroke-width="0.4">Lipoic acid</text>
<text x="500.2" y="264.8" font-size="7" font-weight="bold" text-anchor="middle" fill="#111" stroke="#111" stroke-width="0.4">-</text>
<text x="500.2" y="272.8" font-size="7" font-weight="bold" text-anchor="middle" fill="#111" stroke="#111" stroke-width="0.4">-</text>
<text x="517.6" y="264.8" font-size="7" font-weight="bold" text-anchor="middle" fill="#111" stroke="#111" stroke-width="0.4">+</text>
<text x="517.6" y="272.8" font-size="7" font-weight="bold" text-anchor="middle" fill="#111" stroke="#111" stroke-width="0.4">-</text>
<text x="538" y="264.8" font-size="7" font-weight="bold" text-anchor="middle" fill="#111" stroke="#111" stroke-width="0.4">+</text>
<text x="538" y="272.8" font-size="7" font-weight="bold" text-anchor="middle" fill="#111" stroke="#111" stroke-width="0.4">+</text>
</svg>
</body></html>
